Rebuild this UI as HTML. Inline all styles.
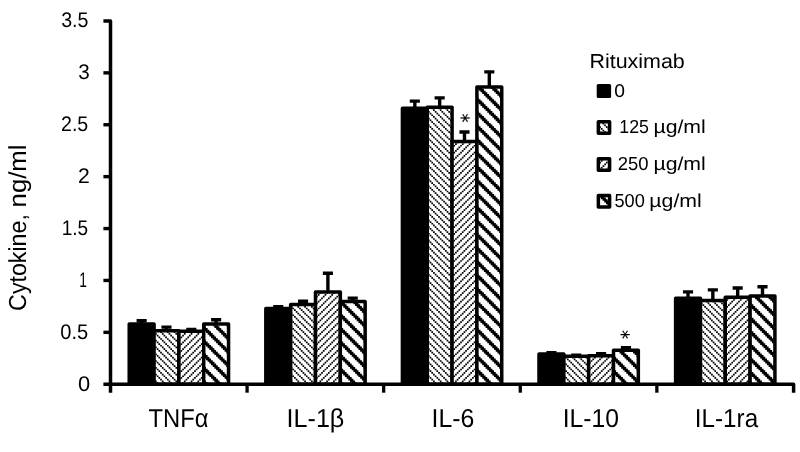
<!DOCTYPE html>
<html lang="en"><head><meta charset="utf-8"><title>Cytokine chart</title>
<style>
html,body{margin:0;padding:0;background:#fff;}
body{width:800px;height:452px;overflow:hidden;font-family:"Liberation Sans",sans-serif;}
svg{display:block;}
text{font-family:"Liberation Sans",sans-serif;fill:#000;text-rendering:geometricPrecision;}
</style></head><body>
<svg width="800" height="452" viewBox="0 0 800 452" role="img" aria-label="Cytokine bar chart">
<rect width="800" height="452" fill="#fff"/>

<path d="M141.65,323.95 V320.80 M138.30,320.80 H145.00" stroke="#000" stroke-width="3.4" stroke-linecap="square" fill="none"/>
<rect x="129.23" y="323.95" width="24.83" height="60.30" fill="#000" stroke="#000" stroke-width="3.5" stroke-linejoin="round"/>
<path d="M166.48,330.70 V327.10 M163.13,327.10 H169.83" stroke="#000" stroke-width="3.4" stroke-linecap="square" fill="none"/>
<rect x="154.06" y="330.70" width="24.83" height="53.55" fill="#fff"/>
<path transform="translate(-0.8475,-0.8475) scale(1.69492)" d="M95,196.32h1v.68h-1zM99,196.32h1v.68h-1zM103,196.32h1v.68h-1zM92.11,197h.89v1h-.89zM96,197h1v1h-1zM100,197h1v1h-1zM104,197h1v1h-1zM93,198h1v1h-1zM97,198h1v1h-1zM101,198h1v1h-1zM105,198h.34v1h-.34zM94,199h1v1h-1zM98,199h1v1h-1zM102,199h1v1h-1zM95,200h1v1h-1zM99,200h1v1h-1zM103,200h1v1h-1zM92.11,201h.89v1h-.89zM96,201h1v1h-1zM100,201h1v1h-1zM104,201h1v1h-1zM93,202h1v1h-1zM97,202h1v1h-1zM101,202h1v1h-1zM105,202h.34v1h-.34zM94,203h1v1h-1zM98,203h1v1h-1zM102,203h1v1h-1zM95,204h1v1h-1zM99,204h1v1h-1zM103,204h1v1h-1zM92.11,205h.89v1h-.89zM96,205h1v1h-1zM100,205h1v1h-1zM104,205h1v1h-1zM93,206h1v1h-1zM97,206h1v1h-1zM101,206h1v1h-1zM105,206h.34v1h-.34zM94,207h1v1h-1zM98,207h1v1h-1zM102,207h1v1h-1zM95,208h1v1h-1zM99,208h1v1h-1zM103,208h1v1h-1zM92.11,209h.89v1h-.89zM96,209h1v1h-1zM100,209h1v1h-1zM104,209h1v1h-1zM93,210h1v1h-1zM97,210h1v1h-1zM101,210h1v1h-1zM105,210h.34v1h-.34zM94,211h1v1h-1zM98,211h1v1h-1zM102,211h1v1h-1zM95,212h1v1h-1zM99,212h1v1h-1zM103,212h1v1h-1zM92.11,213h.89v1h-.89zM96,213h1v1h-1zM100,213h1v1h-1zM104,213h1v1h-1zM93,214h1v1h-1zM97,214h1v1h-1zM101,214h1v1h-1zM105,214h.34v1h-.34zM94,215h1v1h-1zM98,215h1v1h-1zM102,215h1v1h-1zM95,216h1v1h-1zM99,216h1v1h-1zM103,216h1v1h-1zM92.11,217h.89v1h-.89zM96,217h1v1h-1zM100,217h1v1h-1zM104,217h1v1h-1zM93,218h1v1h-1zM97,218h1v1h-1zM101,218h1v1h-1zM105,218h.34v1h-.34zM94,219h1v1h-1zM98,219h1v1h-1zM102,219h1v1h-1zM95,220h1v1h-1zM99,220h1v1h-1zM103,220h1v1h-1zM92.11,221h.89v1h-.89zM96,221h1v1h-1zM100,221h1v1h-1zM104,221h1v1h-1zM93,222h1v1h-1zM97,222h1v1h-1zM101,222h1v1h-1zM105,222h.34v1h-.34zM94,223h1v1h-1zM98,223h1v1h-1zM102,223h1v1h-1zM95,224h1v1h-1zM99,224h1v1h-1zM103,224h1v1h-1zM92.11,225h.89v1h-.89zM96,225h1v1h-1zM100,225h1v1h-1zM104,225h1v1h-1zM93,226h1v.5h-1zM97,226h1v.5h-1zM101,226h1v.5h-1zM105,226h.34v.5h-.34z" fill="#000"/>
<rect x="154.06" y="330.70" width="24.83" height="53.55" fill="none" stroke="#000" stroke-width="3.5" stroke-linejoin="round"/>
<path d="M191.31,331.25 V329.35 M187.96,329.35 H194.66" stroke="#000" stroke-width="3.4" stroke-linecap="square" fill="none"/>
<rect x="178.89" y="331.25" width="24.83" height="53.00" fill="#fff"/>
<path transform="translate(-0.8475,-0.8475) scale(1.69492)" d="M106.76,196.65h.24v.35h-.24zM110,196.65h1v.35h-1zM114,196.65h1v.35h-1zM118,196.65h1v.35h-1zM109,197h1v1h-1zM113,197h1v1h-1zM117,197h1v1h-1zM108,198h1v1h-1zM112,198h1v1h-1zM116,198h1v1h-1zM107,199h1v1h-1zM111,199h1v1h-1zM115,199h1v1h-1zM119,199h.99v1h-.99zM106.76,200h.24v1h-.24zM110,200h1v1h-1zM114,200h1v1h-1zM118,200h1v1h-1zM109,201h1v1h-1zM113,201h1v1h-1zM117,201h1v1h-1zM108,202h1v1h-1zM112,202h1v1h-1zM116,202h1v1h-1zM107,203h1v1h-1zM111,203h1v1h-1zM115,203h1v1h-1zM119,203h.99v1h-.99zM106.76,204h.24v1h-.24zM110,204h1v1h-1zM114,204h1v1h-1zM118,204h1v1h-1zM109,205h1v1h-1zM113,205h1v1h-1zM117,205h1v1h-1zM108,206h1v1h-1zM112,206h1v1h-1zM116,206h1v1h-1zM107,207h1v1h-1zM111,207h1v1h-1zM115,207h1v1h-1zM119,207h.99v1h-.99zM106.76,208h.24v1h-.24zM110,208h1v1h-1zM114,208h1v1h-1zM118,208h1v1h-1zM109,209h1v1h-1zM113,209h1v1h-1zM117,209h1v1h-1zM108,210h1v1h-1zM112,210h1v1h-1zM116,210h1v1h-1zM107,211h1v1h-1zM111,211h1v1h-1zM115,211h1v1h-1zM119,211h.99v1h-.99zM106.76,212h.24v1h-.24zM110,212h1v1h-1zM114,212h1v1h-1zM118,212h1v1h-1zM109,213h1v1h-1zM113,213h1v1h-1zM117,213h1v1h-1zM108,214h1v1h-1zM112,214h1v1h-1zM116,214h1v1h-1zM107,215h1v1h-1zM111,215h1v1h-1zM115,215h1v1h-1zM119,215h.99v1h-.99zM106.76,216h.24v1h-.24zM110,216h1v1h-1zM114,216h1v1h-1zM118,216h1v1h-1zM109,217h1v1h-1zM113,217h1v1h-1zM117,217h1v1h-1zM108,218h1v1h-1zM112,218h1v1h-1zM116,218h1v1h-1zM107,219h1v1h-1zM111,219h1v1h-1zM115,219h1v1h-1zM119,219h.99v1h-.99zM106.76,220h.24v1h-.24zM110,220h1v1h-1zM114,220h1v1h-1zM118,220h1v1h-1zM109,221h1v1h-1zM113,221h1v1h-1zM117,221h1v1h-1zM108,222h1v1h-1zM112,222h1v1h-1zM116,222h1v1h-1zM107,223h1v1h-1zM111,223h1v1h-1zM115,223h1v1h-1zM119,223h.99v1h-.99zM106.76,224h.24v1h-.24zM110,224h1v1h-1zM114,224h1v1h-1zM118,224h1v1h-1zM109,225h1v1h-1zM113,225h1v1h-1zM117,225h1v1h-1zM108,226h1v.5h-1zM112,226h1v.5h-1zM116,226h1v.5h-1z" fill="#000"/>
<rect x="178.89" y="331.25" width="24.83" height="53.00" fill="none" stroke="#000" stroke-width="3.5" stroke-linejoin="round"/>
<path d="M216.14,323.95 V319.80 M212.79,319.80 H219.49" stroke="#000" stroke-width="3.4" stroke-linecap="square" fill="none"/>
<rect x="203.72" y="323.95" width="24.83" height="60.30" fill="#fff"/>
<path transform="translate(-0.8475,-0.8475) scale(1.69492)" d="M126,192.34h3v.66h-3zM134,192.34h.64v.66h-.64zM121.41,193h.59v1h-.59zM127,193h3v1h-3zM121.41,194h1.59v1h-1.59zM128,194h3v1h-3zM121.41,195h2.59v1h-2.59zM129,195h3v1h-3zM122,196h3v1h-3zM130,196h3v1h-3zM123,197h3v1h-3zM131,197h3v1h-3zM124,198h3v1h-3zM132,198h2.64v1h-2.64zM125,199h3v1h-3zM133,199h1.64v1h-1.64zM126,200h3v1h-3zM134,200h.64v1h-.64zM121.41,201h.59v1h-.59zM127,201h3v1h-3zM121.41,202h1.59v1h-1.59zM128,202h3v1h-3zM121.41,203h2.59v1h-2.59zM129,203h3v1h-3zM122,204h3v1h-3zM130,204h3v1h-3zM123,205h3v1h-3zM131,205h3v1h-3zM124,206h3v1h-3zM132,206h2.64v1h-2.64zM125,207h3v1h-3zM133,207h1.64v1h-1.64zM126,208h3v1h-3zM134,208h.64v1h-.64zM121.41,209h.59v1h-.59zM127,209h3v1h-3zM121.41,210h1.59v1h-1.59zM128,210h3v1h-3zM121.41,211h2.59v1h-2.59zM129,211h3v1h-3zM122,212h3v1h-3zM130,212h3v1h-3zM123,213h3v1h-3zM131,213h3v1h-3zM124,214h3v1h-3zM132,214h2.64v1h-2.64zM125,215h3v1h-3zM133,215h1.64v1h-1.64zM126,216h3v1h-3zM134,216h.64v1h-.64zM121.41,217h.59v1h-.59zM127,217h3v1h-3zM121.41,218h1.59v1h-1.59zM128,218h3v1h-3zM121.41,219h2.59v1h-2.59zM129,219h3v1h-3zM122,220h3v1h-3zM130,220h3v1h-3zM123,221h3v1h-3zM131,221h3v1h-3zM124,222h3v1h-3zM132,222h2.64v1h-2.64zM125,223h3v1h-3zM133,223h1.64v1h-1.64zM126,224h3v1h-3zM134,224h.64v1h-.64zM121.41,225h.59v1h-.59zM127,225h3v1h-3zM121.41,226h1.59v.5h-1.59zM128,226h3v.5h-3z" fill="#000"/>
<rect x="203.72" y="323.95" width="24.83" height="60.30" fill="none" stroke="#000" stroke-width="3.5" stroke-linejoin="round"/>
<path d="M278.24,308.45 V306.60 M274.89,306.60 H281.59" stroke="#000" stroke-width="3.4" stroke-linecap="square" fill="none"/>
<rect x="265.83" y="308.45" width="24.83" height="75.80" fill="#000" stroke="#000" stroke-width="3.5" stroke-linejoin="round"/>
<path d="M303.07,304.50 V301.20 M299.72,301.20 H306.42" stroke="#000" stroke-width="3.4" stroke-linecap="square" fill="none"/>
<rect x="290.66" y="304.50" width="24.83" height="79.75" fill="#fff"/>
<path transform="translate(-0.8475,-0.8475) scale(1.69492)" d="M175,180.86h1v.14h-1zM179,180.86h1v.14h-1zM183,180.86h1v.14h-1zM172.69,181h.31v1h-.31zM176,181h1v1h-1zM180,181h1v1h-1zM184,181h1v1h-1zM173,182h1v1h-1zM177,182h1v1h-1zM181,182h1v1h-1zM185,182h.93v1h-.93zM174,183h1v1h-1zM178,183h1v1h-1zM182,183h1v1h-1zM175,184h1v1h-1zM179,184h1v1h-1zM183,184h1v1h-1zM172.69,185h.31v1h-.31zM176,185h1v1h-1zM180,185h1v1h-1zM184,185h1v1h-1zM173,186h1v1h-1zM177,186h1v1h-1zM181,186h1v1h-1zM185,186h.93v1h-.93zM174,187h1v1h-1zM178,187h1v1h-1zM182,187h1v1h-1zM175,188h1v1h-1zM179,188h1v1h-1zM183,188h1v1h-1zM172.69,189h.31v1h-.31zM176,189h1v1h-1zM180,189h1v1h-1zM184,189h1v1h-1zM173,190h1v1h-1zM177,190h1v1h-1zM181,190h1v1h-1zM185,190h.93v1h-.93zM174,191h1v1h-1zM178,191h1v1h-1zM182,191h1v1h-1zM175,192h1v1h-1zM179,192h1v1h-1zM183,192h1v1h-1zM172.69,193h.31v1h-.31zM176,193h1v1h-1zM180,193h1v1h-1zM184,193h1v1h-1zM173,194h1v1h-1zM177,194h1v1h-1zM181,194h1v1h-1zM185,194h.93v1h-.93zM174,195h1v1h-1zM178,195h1v1h-1zM182,195h1v1h-1zM175,196h1v1h-1zM179,196h1v1h-1zM183,196h1v1h-1zM172.69,197h.31v1h-.31zM176,197h1v1h-1zM180,197h1v1h-1zM184,197h1v1h-1zM173,198h1v1h-1zM177,198h1v1h-1zM181,198h1v1h-1zM185,198h.93v1h-.93zM174,199h1v1h-1zM178,199h1v1h-1zM182,199h1v1h-1zM175,200h1v1h-1zM179,200h1v1h-1zM183,200h1v1h-1zM172.69,201h.31v1h-.31zM176,201h1v1h-1zM180,201h1v1h-1zM184,201h1v1h-1zM173,202h1v1h-1zM177,202h1v1h-1zM181,202h1v1h-1zM185,202h.93v1h-.93zM174,203h1v1h-1zM178,203h1v1h-1zM182,203h1v1h-1zM175,204h1v1h-1zM179,204h1v1h-1zM183,204h1v1h-1zM172.69,205h.31v1h-.31zM176,205h1v1h-1zM180,205h1v1h-1zM184,205h1v1h-1zM173,206h1v1h-1zM177,206h1v1h-1zM181,206h1v1h-1zM185,206h.93v1h-.93zM174,207h1v1h-1zM178,207h1v1h-1zM182,207h1v1h-1zM175,208h1v1h-1zM179,208h1v1h-1zM183,208h1v1h-1zM172.69,209h.31v1h-.31zM176,209h1v1h-1zM180,209h1v1h-1zM184,209h1v1h-1zM173,210h1v1h-1zM177,210h1v1h-1zM181,210h1v1h-1zM185,210h.93v1h-.93zM174,211h1v1h-1zM178,211h1v1h-1zM182,211h1v1h-1zM175,212h1v1h-1zM179,212h1v1h-1zM183,212h1v1h-1zM172.69,213h.31v1h-.31zM176,213h1v1h-1zM180,213h1v1h-1zM184,213h1v1h-1zM173,214h1v1h-1zM177,214h1v1h-1zM181,214h1v1h-1zM185,214h.93v1h-.93zM174,215h1v1h-1zM178,215h1v1h-1zM182,215h1v1h-1zM175,216h1v1h-1zM179,216h1v1h-1zM183,216h1v1h-1zM172.69,217h.31v1h-.31zM176,217h1v1h-1zM180,217h1v1h-1zM184,217h1v1h-1zM173,218h1v1h-1zM177,218h1v1h-1zM181,218h1v1h-1zM185,218h.93v1h-.93zM174,219h1v1h-1zM178,219h1v1h-1zM182,219h1v1h-1zM175,220h1v1h-1zM179,220h1v1h-1zM183,220h1v1h-1zM172.69,221h.31v1h-.31zM176,221h1v1h-1zM180,221h1v1h-1zM184,221h1v1h-1zM173,222h1v1h-1zM177,222h1v1h-1zM181,222h1v1h-1zM185,222h.93v1h-.93zM174,223h1v1h-1zM178,223h1v1h-1zM182,223h1v1h-1zM175,224h1v1h-1zM179,224h1v1h-1zM183,224h1v1h-1zM172.69,225h.31v1h-.31zM176,225h1v1h-1zM180,225h1v1h-1zM184,225h1v1h-1zM173,226h1v.5h-1zM177,226h1v.5h-1zM181,226h1v.5h-1zM185,226h.93v.5h-.93z" fill="#000"/>
<rect x="290.66" y="304.50" width="24.83" height="79.75" fill="none" stroke="#000" stroke-width="3.5" stroke-linejoin="round"/>
<path d="M327.90,292.00 V273.25 M324.55,273.25 H331.25" stroke="#000" stroke-width="3.4" stroke-linecap="square" fill="none"/>
<rect x="315.49" y="292.00" width="24.83" height="92.25" fill="#fff"/>
<path transform="translate(-0.8475,-0.8475) scale(1.69492)" d="M189,173.49h1v.51h-1zM193,173.49h1v.51h-1zM197,173.49h1v.51h-1zM188,174h1v1h-1zM192,174h1v1h-1zM196,174h1v1h-1zM200,174h.58v1h-.58zM187.34,175h.66v1h-.66zM191,175h1v1h-1zM195,175h1v1h-1zM199,175h1v1h-1zM190,176h1v1h-1zM194,176h1v1h-1zM198,176h1v1h-1zM189,177h1v1h-1zM193,177h1v1h-1zM197,177h1v1h-1zM188,178h1v1h-1zM192,178h1v1h-1zM196,178h1v1h-1zM200,178h.58v1h-.58zM187.34,179h.66v1h-.66zM191,179h1v1h-1zM195,179h1v1h-1zM199,179h1v1h-1zM190,180h1v1h-1zM194,180h1v1h-1zM198,180h1v1h-1zM189,181h1v1h-1zM193,181h1v1h-1zM197,181h1v1h-1zM188,182h1v1h-1zM192,182h1v1h-1zM196,182h1v1h-1zM200,182h.58v1h-.58zM187.34,183h.66v1h-.66zM191,183h1v1h-1zM195,183h1v1h-1zM199,183h1v1h-1zM190,184h1v1h-1zM194,184h1v1h-1zM198,184h1v1h-1zM189,185h1v1h-1zM193,185h1v1h-1zM197,185h1v1h-1zM188,186h1v1h-1zM192,186h1v1h-1zM196,186h1v1h-1zM200,186h.58v1h-.58zM187.34,187h.66v1h-.66zM191,187h1v1h-1zM195,187h1v1h-1zM199,187h1v1h-1zM190,188h1v1h-1zM194,188h1v1h-1zM198,188h1v1h-1zM189,189h1v1h-1zM193,189h1v1h-1zM197,189h1v1h-1zM188,190h1v1h-1zM192,190h1v1h-1zM196,190h1v1h-1zM200,190h.58v1h-.58zM187.34,191h.66v1h-.66zM191,191h1v1h-1zM195,191h1v1h-1zM199,191h1v1h-1zM190,192h1v1h-1zM194,192h1v1h-1zM198,192h1v1h-1zM189,193h1v1h-1zM193,193h1v1h-1zM197,193h1v1h-1zM188,194h1v1h-1zM192,194h1v1h-1zM196,194h1v1h-1zM200,194h.58v1h-.58zM187.34,195h.66v1h-.66zM191,195h1v1h-1zM195,195h1v1h-1zM199,195h1v1h-1zM190,196h1v1h-1zM194,196h1v1h-1zM198,196h1v1h-1zM189,197h1v1h-1zM193,197h1v1h-1zM197,197h1v1h-1zM188,198h1v1h-1zM192,198h1v1h-1zM196,198h1v1h-1zM200,198h.58v1h-.58zM187.34,199h.66v1h-.66zM191,199h1v1h-1zM195,199h1v1h-1zM199,199h1v1h-1zM190,200h1v1h-1zM194,200h1v1h-1zM198,200h1v1h-1zM189,201h1v1h-1zM193,201h1v1h-1zM197,201h1v1h-1zM188,202h1v1h-1zM192,202h1v1h-1zM196,202h1v1h-1zM200,202h.58v1h-.58zM187.34,203h.66v1h-.66zM191,203h1v1h-1zM195,203h1v1h-1zM199,203h1v1h-1zM190,204h1v1h-1zM194,204h1v1h-1zM198,204h1v1h-1zM189,205h1v1h-1zM193,205h1v1h-1zM197,205h1v1h-1zM188,206h1v1h-1zM192,206h1v1h-1zM196,206h1v1h-1zM200,206h.58v1h-.58zM187.34,207h.66v1h-.66zM191,207h1v1h-1zM195,207h1v1h-1zM199,207h1v1h-1zM190,208h1v1h-1zM194,208h1v1h-1zM198,208h1v1h-1zM189,209h1v1h-1zM193,209h1v1h-1zM197,209h1v1h-1zM188,210h1v1h-1zM192,210h1v1h-1zM196,210h1v1h-1zM200,210h.58v1h-.58zM187.34,211h.66v1h-.66zM191,211h1v1h-1zM195,211h1v1h-1zM199,211h1v1h-1zM190,212h1v1h-1zM194,212h1v1h-1zM198,212h1v1h-1zM189,213h1v1h-1zM193,213h1v1h-1zM197,213h1v1h-1zM188,214h1v1h-1zM192,214h1v1h-1zM196,214h1v1h-1zM200,214h.58v1h-.58zM187.34,215h.66v1h-.66zM191,215h1v1h-1zM195,215h1v1h-1zM199,215h1v1h-1zM190,216h1v1h-1zM194,216h1v1h-1zM198,216h1v1h-1zM189,217h1v1h-1zM193,217h1v1h-1zM197,217h1v1h-1zM188,218h1v1h-1zM192,218h1v1h-1zM196,218h1v1h-1zM200,218h.58v1h-.58zM187.34,219h.66v1h-.66zM191,219h1v1h-1zM195,219h1v1h-1zM199,219h1v1h-1zM190,220h1v1h-1zM194,220h1v1h-1zM198,220h1v1h-1zM189,221h1v1h-1zM193,221h1v1h-1zM197,221h1v1h-1zM188,222h1v1h-1zM192,222h1v1h-1zM196,222h1v1h-1zM200,222h.58v1h-.58zM187.34,223h.66v1h-.66zM191,223h1v1h-1zM195,223h1v1h-1zM199,223h1v1h-1zM190,224h1v1h-1zM194,224h1v1h-1zM198,224h1v1h-1zM189,225h1v1h-1zM193,225h1v1h-1zM197,225h1v1h-1zM188,226h1v.5h-1zM192,226h1v.5h-1zM196,226h1v.5h-1zM200,226h.58v.5h-.58z" fill="#000"/>
<rect x="315.49" y="292.00" width="24.83" height="92.25" fill="none" stroke="#000" stroke-width="3.5" stroke-linejoin="round"/>
<path d="M352.73,301.45 V298.10 M349.38,298.10 H356.08" stroke="#000" stroke-width="3.4" stroke-linecap="square" fill="none"/>
<rect x="340.32" y="301.45" width="24.83" height="82.80" fill="#fff"/>
<path transform="translate(-0.8475,-0.8475) scale(1.69492)" d="M201.99,179.06h2.01v.94h-2.01zM209,179.06h3v.94h-3zM202,180h3v1h-3zM210,180h3v1h-3zM203,181h3v1h-3zM211,181h3v1h-3zM204,182h3v1h-3zM212,182h3v1h-3zM205,183h3v1h-3zM213,183h2.23v1h-2.23zM206,184h3v1h-3zM214,184h1.23v1h-1.23zM201.99,185h.01v1h-.01zM207,185h3v1h-3zM215,185h.23v1h-.23zM201.99,186h1.01v1h-1.01zM208,186h3v1h-3zM201.99,187h2.01v1h-2.01zM209,187h3v1h-3zM202,188h3v1h-3zM210,188h3v1h-3zM203,189h3v1h-3zM211,189h3v1h-3zM204,190h3v1h-3zM212,190h3v1h-3zM205,191h3v1h-3zM213,191h2.23v1h-2.23zM206,192h3v1h-3zM214,192h1.23v1h-1.23zM201.99,193h.01v1h-.01zM207,193h3v1h-3zM215,193h.23v1h-.23zM201.99,194h1.01v1h-1.01zM208,194h3v1h-3zM201.99,195h2.01v1h-2.01zM209,195h3v1h-3zM202,196h3v1h-3zM210,196h3v1h-3zM203,197h3v1h-3zM211,197h3v1h-3zM204,198h3v1h-3zM212,198h3v1h-3zM205,199h3v1h-3zM213,199h2.23v1h-2.23zM206,200h3v1h-3zM214,200h1.23v1h-1.23zM201.99,201h.01v1h-.01zM207,201h3v1h-3zM215,201h.23v1h-.23zM201.99,202h1.01v1h-1.01zM208,202h3v1h-3zM201.99,203h2.01v1h-2.01zM209,203h3v1h-3zM202,204h3v1h-3zM210,204h3v1h-3zM203,205h3v1h-3zM211,205h3v1h-3zM204,206h3v1h-3zM212,206h3v1h-3zM205,207h3v1h-3zM213,207h2.23v1h-2.23zM206,208h3v1h-3zM214,208h1.23v1h-1.23zM201.99,209h.01v1h-.01zM207,209h3v1h-3zM215,209h.23v1h-.23zM201.99,210h1.01v1h-1.01zM208,210h3v1h-3zM201.99,211h2.01v1h-2.01zM209,211h3v1h-3zM202,212h3v1h-3zM210,212h3v1h-3zM203,213h3v1h-3zM211,213h3v1h-3zM204,214h3v1h-3zM212,214h3v1h-3zM205,215h3v1h-3zM213,215h2.23v1h-2.23zM206,216h3v1h-3zM214,216h1.23v1h-1.23zM201.99,217h.01v1h-.01zM207,217h3v1h-3zM215,217h.23v1h-.23zM201.99,218h1.01v1h-1.01zM208,218h3v1h-3zM201.99,219h2.01v1h-2.01zM209,219h3v1h-3zM202,220h3v1h-3zM210,220h3v1h-3zM203,221h3v1h-3zM211,221h3v1h-3zM204,222h3v1h-3zM212,222h3v1h-3zM205,223h3v1h-3zM213,223h2.23v1h-2.23zM206,224h3v1h-3zM214,224h1.23v1h-1.23zM201.99,225h.01v1h-.01zM207,225h3v1h-3zM215,225h.23v1h-.23zM201.99,226h1.01v.5h-1.01zM208,226h3v.5h-3z" fill="#000"/>
<rect x="340.32" y="301.45" width="24.83" height="82.80" fill="none" stroke="#000" stroke-width="3.5" stroke-linejoin="round"/>
<path d="M414.83,108.20 V101.10 M411.48,101.10 H418.18" stroke="#000" stroke-width="3.4" stroke-linecap="square" fill="none"/>
<rect x="402.42" y="108.20" width="24.83" height="276.05" fill="#000" stroke="#000" stroke-width="3.5" stroke-linejoin="round"/>
<path d="M439.66,107.25 V97.90 M436.31,97.90 H443.01" stroke="#000" stroke-width="3.4" stroke-linecap="square" fill="none"/>
<rect x="427.25" y="107.25" width="24.83" height="277.00" fill="#fff"/>
<path transform="translate(-0.8475,-0.8475) scale(1.69492)" d="M255,64.49h1v.51h-1zM259,64.49h1v.51h-1zM263,64.49h1v.51h-1zM256,65h1v1h-1zM260,65h1v1h-1zM264,65h1v1h-1zM253.28,66h.72v1h-.72zM257,66h1v1h-1zM261,66h1v1h-1zM265,66h1v1h-1zM254,67h1v1h-1zM258,67h1v1h-1zM262,67h1v1h-1zM266,67h.52v1h-.52zM255,68h1v1h-1zM259,68h1v1h-1zM263,68h1v1h-1zM256,69h1v1h-1zM260,69h1v1h-1zM264,69h1v1h-1zM253.28,70h.72v1h-.72zM257,70h1v1h-1zM261,70h1v1h-1zM265,70h1v1h-1zM254,71h1v1h-1zM258,71h1v1h-1zM262,71h1v1h-1zM266,71h.52v1h-.52zM255,72h1v1h-1zM259,72h1v1h-1zM263,72h1v1h-1zM256,73h1v1h-1zM260,73h1v1h-1zM264,73h1v1h-1zM253.28,74h.72v1h-.72zM257,74h1v1h-1zM261,74h1v1h-1zM265,74h1v1h-1zM254,75h1v1h-1zM258,75h1v1h-1zM262,75h1v1h-1zM266,75h.52v1h-.52zM255,76h1v1h-1zM259,76h1v1h-1zM263,76h1v1h-1zM256,77h1v1h-1zM260,77h1v1h-1zM264,77h1v1h-1zM253.28,78h.72v1h-.72zM257,78h1v1h-1zM261,78h1v1h-1zM265,78h1v1h-1zM254,79h1v1h-1zM258,79h1v1h-1zM262,79h1v1h-1zM266,79h.52v1h-.52zM255,80h1v1h-1zM259,80h1v1h-1zM263,80h1v1h-1zM256,81h1v1h-1zM260,81h1v1h-1zM264,81h1v1h-1zM253.28,82h.72v1h-.72zM257,82h1v1h-1zM261,82h1v1h-1zM265,82h1v1h-1zM254,83h1v1h-1zM258,83h1v1h-1zM262,83h1v1h-1zM266,83h.52v1h-.52zM255,84h1v1h-1zM259,84h1v1h-1zM263,84h1v1h-1zM256,85h1v1h-1zM260,85h1v1h-1zM264,85h1v1h-1zM253.28,86h.72v1h-.72zM257,86h1v1h-1zM261,86h1v1h-1zM265,86h1v1h-1zM254,87h1v1h-1zM258,87h1v1h-1zM262,87h1v1h-1zM266,87h.52v1h-.52zM255,88h1v1h-1zM259,88h1v1h-1zM263,88h1v1h-1zM256,89h1v1h-1zM260,89h1v1h-1zM264,89h1v1h-1zM253.28,90h.72v1h-.72zM257,90h1v1h-1zM261,90h1v1h-1zM265,90h1v1h-1zM254,91h1v1h-1zM258,91h1v1h-1zM262,91h1v1h-1zM266,91h.52v1h-.52zM255,92h1v1h-1zM259,92h1v1h-1zM263,92h1v1h-1zM256,93h1v1h-1zM260,93h1v1h-1zM264,93h1v1h-1zM253.28,94h.72v1h-.72zM257,94h1v1h-1zM261,94h1v1h-1zM265,94h1v1h-1zM254,95h1v1h-1zM258,95h1v1h-1zM262,95h1v1h-1zM266,95h.52v1h-.52zM255,96h1v1h-1zM259,96h1v1h-1zM263,96h1v1h-1zM256,97h1v1h-1zM260,97h1v1h-1zM264,97h1v1h-1zM253.28,98h.72v1h-.72zM257,98h1v1h-1zM261,98h1v1h-1zM265,98h1v1h-1zM254,99h1v1h-1zM258,99h1v1h-1zM262,99h1v1h-1zM266,99h.52v1h-.52zM255,100h1v1h-1zM259,100h1v1h-1zM263,100h1v1h-1zM256,101h1v1h-1zM260,101h1v1h-1zM264,101h1v1h-1zM253.28,102h.72v1h-.72zM257,102h1v1h-1zM261,102h1v1h-1zM265,102h1v1h-1zM254,103h1v1h-1zM258,103h1v1h-1zM262,103h1v1h-1zM266,103h.52v1h-.52zM255,104h1v1h-1zM259,104h1v1h-1zM263,104h1v1h-1zM256,105h1v1h-1zM260,105h1v1h-1zM264,105h1v1h-1zM253.28,106h.72v1h-.72zM257,106h1v1h-1zM261,106h1v1h-1zM265,106h1v1h-1zM254,107h1v1h-1zM258,107h1v1h-1zM262,107h1v1h-1zM266,107h.52v1h-.52zM255,108h1v1h-1zM259,108h1v1h-1zM263,108h1v1h-1zM256,109h1v1h-1zM260,109h1v1h-1zM264,109h1v1h-1zM253.28,110h.72v1h-.72zM257,110h1v1h-1zM261,110h1v1h-1zM265,110h1v1h-1zM254,111h1v1h-1zM258,111h1v1h-1zM262,111h1v1h-1zM266,111h.52v1h-.52zM255,112h1v1h-1zM259,112h1v1h-1zM263,112h1v1h-1zM256,113h1v1h-1zM260,113h1v1h-1zM264,113h1v1h-1zM253.28,114h.72v1h-.72zM257,114h1v1h-1zM261,114h1v1h-1zM265,114h1v1h-1zM254,115h1v1h-1zM258,115h1v1h-1zM262,115h1v1h-1zM266,115h.52v1h-.52zM255,116h1v1h-1zM259,116h1v1h-1zM263,116h1v1h-1zM256,117h1v1h-1zM260,117h1v1h-1zM264,117h1v1h-1zM253.28,118h.72v1h-.72zM257,118h1v1h-1zM261,118h1v1h-1zM265,118h1v1h-1zM254,119h1v1h-1zM258,119h1v1h-1zM262,119h1v1h-1zM266,119h.52v1h-.52zM255,120h1v1h-1zM259,120h1v1h-1zM263,120h1v1h-1zM256,121h1v1h-1zM260,121h1v1h-1zM264,121h1v1h-1zM253.28,122h.72v1h-.72zM257,122h1v1h-1zM261,122h1v1h-1zM265,122h1v1h-1zM254,123h1v1h-1zM258,123h1v1h-1zM262,123h1v1h-1zM266,123h.52v1h-.52zM255,124h1v1h-1zM259,124h1v1h-1zM263,124h1v1h-1zM256,125h1v1h-1zM260,125h1v1h-1zM264,125h1v1h-1zM253.28,126h.72v1h-.72zM257,126h1v1h-1zM261,126h1v1h-1zM265,126h1v1h-1zM254,127h1v1h-1zM258,127h1v1h-1zM262,127h1v1h-1zM266,127h.52v1h-.52zM255,128h1v1h-1zM259,128h1v1h-1zM263,128h1v1h-1zM256,129h1v1h-1zM260,129h1v1h-1zM264,129h1v1h-1zM253.28,130h.72v1h-.72zM257,130h1v1h-1zM261,130h1v1h-1zM265,130h1v1h-1zM254,131h1v1h-1zM258,131h1v1h-1zM262,131h1v1h-1zM266,131h.52v1h-.52zM255,132h1v1h-1zM259,132h1v1h-1zM263,132h1v1h-1zM256,133h1v1h-1zM260,133h1v1h-1zM264,133h1v1h-1zM253.28,134h.72v1h-.72zM257,134h1v1h-1zM261,134h1v1h-1zM265,134h1v1h-1zM254,135h1v1h-1zM258,135h1v1h-1zM262,135h1v1h-1zM266,135h.52v1h-.52zM255,136h1v1h-1zM259,136h1v1h-1zM263,136h1v1h-1zM256,137h1v1h-1zM260,137h1v1h-1zM264,137h1v1h-1zM253.28,138h.72v1h-.72zM257,138h1v1h-1zM261,138h1v1h-1zM265,138h1v1h-1zM254,139h1v1h-1zM258,139h1v1h-1zM262,139h1v1h-1zM266,139h.52v1h-.52zM255,140h1v1h-1zM259,140h1v1h-1zM263,140h1v1h-1zM256,141h1v1h-1zM260,141h1v1h-1zM264,141h1v1h-1zM253.28,142h.72v1h-.72zM257,142h1v1h-1zM261,142h1v1h-1zM265,142h1v1h-1zM254,143h1v1h-1zM258,143h1v1h-1zM262,143h1v1h-1zM266,143h.52v1h-.52zM255,144h1v1h-1zM259,144h1v1h-1zM263,144h1v1h-1zM256,145h1v1h-1zM260,145h1v1h-1zM264,145h1v1h-1zM253.28,146h.72v1h-.72zM257,146h1v1h-1zM261,146h1v1h-1zM265,146h1v1h-1zM254,147h1v1h-1zM258,147h1v1h-1zM262,147h1v1h-1zM266,147h.52v1h-.52zM255,148h1v1h-1zM259,148h1v1h-1zM263,148h1v1h-1zM256,149h1v1h-1zM260,149h1v1h-1zM264,149h1v1h-1zM253.28,150h.72v1h-.72zM257,150h1v1h-1zM261,150h1v1h-1zM265,150h1v1h-1zM254,151h1v1h-1zM258,151h1v1h-1zM262,151h1v1h-1zM266,151h.52v1h-.52zM255,152h1v1h-1zM259,152h1v1h-1zM263,152h1v1h-1zM256,153h1v1h-1zM260,153h1v1h-1zM264,153h1v1h-1zM253.28,154h.72v1h-.72zM257,154h1v1h-1zM261,154h1v1h-1zM265,154h1v1h-1zM254,155h1v1h-1zM258,155h1v1h-1zM262,155h1v1h-1zM266,155h.52v1h-.52zM255,156h1v1h-1zM259,156h1v1h-1zM263,156h1v1h-1zM256,157h1v1h-1zM260,157h1v1h-1zM264,157h1v1h-1zM253.28,158h.72v1h-.72zM257,158h1v1h-1zM261,158h1v1h-1zM265,158h1v1h-1zM254,159h1v1h-1zM258,159h1v1h-1zM262,159h1v1h-1zM266,159h.52v1h-.52zM255,160h1v1h-1zM259,160h1v1h-1zM263,160h1v1h-1zM256,161h1v1h-1zM260,161h1v1h-1zM264,161h1v1h-1zM253.28,162h.72v1h-.72zM257,162h1v1h-1zM261,162h1v1h-1zM265,162h1v1h-1zM254,163h1v1h-1zM258,163h1v1h-1zM262,163h1v1h-1zM266,163h.52v1h-.52zM255,164h1v1h-1zM259,164h1v1h-1zM263,164h1v1h-1zM256,165h1v1h-1zM260,165h1v1h-1zM264,165h1v1h-1zM253.28,166h.72v1h-.72zM257,166h1v1h-1zM261,166h1v1h-1zM265,166h1v1h-1zM254,167h1v1h-1zM258,167h1v1h-1zM262,167h1v1h-1zM266,167h.52v1h-.52zM255,168h1v1h-1zM259,168h1v1h-1zM263,168h1v1h-1zM256,169h1v1h-1zM260,169h1v1h-1zM264,169h1v1h-1zM253.28,170h.72v1h-.72zM257,170h1v1h-1zM261,170h1v1h-1zM265,170h1v1h-1zM254,171h1v1h-1zM258,171h1v1h-1zM262,171h1v1h-1zM266,171h.52v1h-.52zM255,172h1v1h-1zM259,172h1v1h-1zM263,172h1v1h-1zM256,173h1v1h-1zM260,173h1v1h-1zM264,173h1v1h-1zM253.28,174h.72v1h-.72zM257,174h1v1h-1zM261,174h1v1h-1zM265,174h1v1h-1zM254,175h1v1h-1zM258,175h1v1h-1zM262,175h1v1h-1zM266,175h.52v1h-.52zM255,176h1v1h-1zM259,176h1v1h-1zM263,176h1v1h-1zM256,177h1v1h-1zM260,177h1v1h-1zM264,177h1v1h-1zM253.28,178h.72v1h-.72zM257,178h1v1h-1zM261,178h1v1h-1zM265,178h1v1h-1zM254,179h1v1h-1zM258,179h1v1h-1zM262,179h1v1h-1zM266,179h.52v1h-.52zM255,180h1v1h-1zM259,180h1v1h-1zM263,180h1v1h-1zM256,181h1v1h-1zM260,181h1v1h-1zM264,181h1v1h-1zM253.28,182h.72v1h-.72zM257,182h1v1h-1zM261,182h1v1h-1zM265,182h1v1h-1zM254,183h1v1h-1zM258,183h1v1h-1zM262,183h1v1h-1zM266,183h.52v1h-.52zM255,184h1v1h-1zM259,184h1v1h-1zM263,184h1v1h-1zM256,185h1v1h-1zM260,185h1v1h-1zM264,185h1v1h-1zM253.28,186h.72v1h-.72zM257,186h1v1h-1zM261,186h1v1h-1zM265,186h1v1h-1zM254,187h1v1h-1zM258,187h1v1h-1zM262,187h1v1h-1zM266,187h.52v1h-.52zM255,188h1v1h-1zM259,188h1v1h-1zM263,188h1v1h-1zM256,189h1v1h-1zM260,189h1v1h-1zM264,189h1v1h-1zM253.28,190h.72v1h-.72zM257,190h1v1h-1zM261,190h1v1h-1zM265,190h1v1h-1zM254,191h1v1h-1zM258,191h1v1h-1zM262,191h1v1h-1zM266,191h.52v1h-.52zM255,192h1v1h-1zM259,192h1v1h-1zM263,192h1v1h-1zM256,193h1v1h-1zM260,193h1v1h-1zM264,193h1v1h-1zM253.28,194h.72v1h-.72zM257,194h1v1h-1zM261,194h1v1h-1zM265,194h1v1h-1zM254,195h1v1h-1zM258,195h1v1h-1zM262,195h1v1h-1zM266,195h.52v1h-.52zM255,196h1v1h-1zM259,196h1v1h-1zM263,196h1v1h-1zM256,197h1v1h-1zM260,197h1v1h-1zM264,197h1v1h-1zM253.28,198h.72v1h-.72zM257,198h1v1h-1zM261,198h1v1h-1zM265,198h1v1h-1zM254,199h1v1h-1zM258,199h1v1h-1zM262,199h1v1h-1zM266,199h.52v1h-.52zM255,200h1v1h-1zM259,200h1v1h-1zM263,200h1v1h-1zM256,201h1v1h-1zM260,201h1v1h-1zM264,201h1v1h-1zM253.28,202h.72v1h-.72zM257,202h1v1h-1zM261,202h1v1h-1zM265,202h1v1h-1zM254,203h1v1h-1zM258,203h1v1h-1zM262,203h1v1h-1zM266,203h.52v1h-.52zM255,204h1v1h-1zM259,204h1v1h-1zM263,204h1v1h-1zM256,205h1v1h-1zM260,205h1v1h-1zM264,205h1v1h-1zM253.28,206h.72v1h-.72zM257,206h1v1h-1zM261,206h1v1h-1zM265,206h1v1h-1zM254,207h1v1h-1zM258,207h1v1h-1zM262,207h1v1h-1zM266,207h.52v1h-.52zM255,208h1v1h-1zM259,208h1v1h-1zM263,208h1v1h-1zM256,209h1v1h-1zM260,209h1v1h-1zM264,209h1v1h-1zM253.28,210h.72v1h-.72zM257,210h1v1h-1zM261,210h1v1h-1zM265,210h1v1h-1zM254,211h1v1h-1zM258,211h1v1h-1zM262,211h1v1h-1zM266,211h.52v1h-.52zM255,212h1v1h-1zM259,212h1v1h-1zM263,212h1v1h-1zM256,213h1v1h-1zM260,213h1v1h-1zM264,213h1v1h-1zM253.28,214h.72v1h-.72zM257,214h1v1h-1zM261,214h1v1h-1zM265,214h1v1h-1zM254,215h1v1h-1zM258,215h1v1h-1zM262,215h1v1h-1zM266,215h.52v1h-.52zM255,216h1v1h-1zM259,216h1v1h-1zM263,216h1v1h-1zM256,217h1v1h-1zM260,217h1v1h-1zM264,217h1v1h-1zM253.28,218h.72v1h-.72zM257,218h1v1h-1zM261,218h1v1h-1zM265,218h1v1h-1zM254,219h1v1h-1zM258,219h1v1h-1zM262,219h1v1h-1zM266,219h.52v1h-.52zM255,220h1v1h-1zM259,220h1v1h-1zM263,220h1v1h-1zM256,221h1v1h-1zM260,221h1v1h-1zM264,221h1v1h-1zM253.28,222h.72v1h-.72zM257,222h1v1h-1zM261,222h1v1h-1zM265,222h1v1h-1zM254,223h1v1h-1zM258,223h1v1h-1zM262,223h1v1h-1zM266,223h.52v1h-.52zM255,224h1v1h-1zM259,224h1v1h-1zM263,224h1v1h-1zM256,225h1v1h-1zM260,225h1v1h-1zM264,225h1v1h-1zM253.28,226h.72v.5h-.72zM257,226h1v.5h-1zM261,226h1v.5h-1zM265,226h1v.5h-1z" fill="#000"/>
<rect x="427.25" y="107.25" width="24.83" height="277.00" fill="none" stroke="#000" stroke-width="3.5" stroke-linejoin="round"/>
<path d="M464.49,141.55 V132.05 M461.14,132.05 H467.84" stroke="#000" stroke-width="3.4" stroke-linecap="square" fill="none"/>
<rect x="452.08" y="141.55" width="24.83" height="242.70" fill="#fff"/>
<path transform="translate(-0.8475,-0.8475) scale(1.69492)" d="M270,84.72h1v.28h-1zM274,84.72h1v.28h-1zM278,84.72h1v.28h-1zM269,85h1v1h-1zM273,85h1v1h-1zM277,85h1v1h-1zM281,85h.17v1h-.17zM268,86h1v1h-1zM272,86h1v1h-1zM276,86h1v1h-1zM280,86h1v1h-1zM267.93,87h.07v1h-.07zM271,87h1v1h-1zM275,87h1v1h-1zM279,87h1v1h-1zM270,88h1v1h-1zM274,88h1v1h-1zM278,88h1v1h-1zM269,89h1v1h-1zM273,89h1v1h-1zM277,89h1v1h-1zM281,89h.17v1h-.17zM268,90h1v1h-1zM272,90h1v1h-1zM276,90h1v1h-1zM280,90h1v1h-1zM267.93,91h.07v1h-.07zM271,91h1v1h-1zM275,91h1v1h-1zM279,91h1v1h-1zM270,92h1v1h-1zM274,92h1v1h-1zM278,92h1v1h-1zM269,93h1v1h-1zM273,93h1v1h-1zM277,93h1v1h-1zM281,93h.17v1h-.17zM268,94h1v1h-1zM272,94h1v1h-1zM276,94h1v1h-1zM280,94h1v1h-1zM267.93,95h.07v1h-.07zM271,95h1v1h-1zM275,95h1v1h-1zM279,95h1v1h-1zM270,96h1v1h-1zM274,96h1v1h-1zM278,96h1v1h-1zM269,97h1v1h-1zM273,97h1v1h-1zM277,97h1v1h-1zM281,97h.17v1h-.17zM268,98h1v1h-1zM272,98h1v1h-1zM276,98h1v1h-1zM280,98h1v1h-1zM267.93,99h.07v1h-.07zM271,99h1v1h-1zM275,99h1v1h-1zM279,99h1v1h-1zM270,100h1v1h-1zM274,100h1v1h-1zM278,100h1v1h-1zM269,101h1v1h-1zM273,101h1v1h-1zM277,101h1v1h-1zM281,101h.17v1h-.17zM268,102h1v1h-1zM272,102h1v1h-1zM276,102h1v1h-1zM280,102h1v1h-1zM267.93,103h.07v1h-.07zM271,103h1v1h-1zM275,103h1v1h-1zM279,103h1v1h-1zM270,104h1v1h-1zM274,104h1v1h-1zM278,104h1v1h-1zM269,105h1v1h-1zM273,105h1v1h-1zM277,105h1v1h-1zM281,105h.17v1h-.17zM268,106h1v1h-1zM272,106h1v1h-1zM276,106h1v1h-1zM280,106h1v1h-1zM267.93,107h.07v1h-.07zM271,107h1v1h-1zM275,107h1v1h-1zM279,107h1v1h-1zM270,108h1v1h-1zM274,108h1v1h-1zM278,108h1v1h-1zM269,109h1v1h-1zM273,109h1v1h-1zM277,109h1v1h-1zM281,109h.17v1h-.17zM268,110h1v1h-1zM272,110h1v1h-1zM276,110h1v1h-1zM280,110h1v1h-1zM267.93,111h.07v1h-.07zM271,111h1v1h-1zM275,111h1v1h-1zM279,111h1v1h-1zM270,112h1v1h-1zM274,112h1v1h-1zM278,112h1v1h-1zM269,113h1v1h-1zM273,113h1v1h-1zM277,113h1v1h-1zM281,113h.17v1h-.17zM268,114h1v1h-1zM272,114h1v1h-1zM276,114h1v1h-1zM280,114h1v1h-1zM267.93,115h.07v1h-.07zM271,115h1v1h-1zM275,115h1v1h-1zM279,115h1v1h-1zM270,116h1v1h-1zM274,116h1v1h-1zM278,116h1v1h-1zM269,117h1v1h-1zM273,117h1v1h-1zM277,117h1v1h-1zM281,117h.17v1h-.17zM268,118h1v1h-1zM272,118h1v1h-1zM276,118h1v1h-1zM280,118h1v1h-1zM267.93,119h.07v1h-.07zM271,119h1v1h-1zM275,119h1v1h-1zM279,119h1v1h-1zM270,120h1v1h-1zM274,120h1v1h-1zM278,120h1v1h-1zM269,121h1v1h-1zM273,121h1v1h-1zM277,121h1v1h-1zM281,121h.17v1h-.17zM268,122h1v1h-1zM272,122h1v1h-1zM276,122h1v1h-1zM280,122h1v1h-1zM267.93,123h.07v1h-.07zM271,123h1v1h-1zM275,123h1v1h-1zM279,123h1v1h-1zM270,124h1v1h-1zM274,124h1v1h-1zM278,124h1v1h-1zM269,125h1v1h-1zM273,125h1v1h-1zM277,125h1v1h-1zM281,125h.17v1h-.17zM268,126h1v1h-1zM272,126h1v1h-1zM276,126h1v1h-1zM280,126h1v1h-1zM267.93,127h.07v1h-.07zM271,127h1v1h-1zM275,127h1v1h-1zM279,127h1v1h-1zM270,128h1v1h-1zM274,128h1v1h-1zM278,128h1v1h-1zM269,129h1v1h-1zM273,129h1v1h-1zM277,129h1v1h-1zM281,129h.17v1h-.17zM268,130h1v1h-1zM272,130h1v1h-1zM276,130h1v1h-1zM280,130h1v1h-1zM267.93,131h.07v1h-.07zM271,131h1v1h-1zM275,131h1v1h-1zM279,131h1v1h-1zM270,132h1v1h-1zM274,132h1v1h-1zM278,132h1v1h-1zM269,133h1v1h-1zM273,133h1v1h-1zM277,133h1v1h-1zM281,133h.17v1h-.17zM268,134h1v1h-1zM272,134h1v1h-1zM276,134h1v1h-1zM280,134h1v1h-1zM267.93,135h.07v1h-.07zM271,135h1v1h-1zM275,135h1v1h-1zM279,135h1v1h-1zM270,136h1v1h-1zM274,136h1v1h-1zM278,136h1v1h-1zM269,137h1v1h-1zM273,137h1v1h-1zM277,137h1v1h-1zM281,137h.17v1h-.17zM268,138h1v1h-1zM272,138h1v1h-1zM276,138h1v1h-1zM280,138h1v1h-1zM267.93,139h.07v1h-.07zM271,139h1v1h-1zM275,139h1v1h-1zM279,139h1v1h-1zM270,140h1v1h-1zM274,140h1v1h-1zM278,140h1v1h-1zM269,141h1v1h-1zM273,141h1v1h-1zM277,141h1v1h-1zM281,141h.17v1h-.17zM268,142h1v1h-1zM272,142h1v1h-1zM276,142h1v1h-1zM280,142h1v1h-1zM267.93,143h.07v1h-.07zM271,143h1v1h-1zM275,143h1v1h-1zM279,143h1v1h-1zM270,144h1v1h-1zM274,144h1v1h-1zM278,144h1v1h-1zM269,145h1v1h-1zM273,145h1v1h-1zM277,145h1v1h-1zM281,145h.17v1h-.17zM268,146h1v1h-1zM272,146h1v1h-1zM276,146h1v1h-1zM280,146h1v1h-1zM267.93,147h.07v1h-.07zM271,147h1v1h-1zM275,147h1v1h-1zM279,147h1v1h-1zM270,148h1v1h-1zM274,148h1v1h-1zM278,148h1v1h-1zM269,149h1v1h-1zM273,149h1v1h-1zM277,149h1v1h-1zM281,149h.17v1h-.17zM268,150h1v1h-1zM272,150h1v1h-1zM276,150h1v1h-1zM280,150h1v1h-1zM267.93,151h.07v1h-.07zM271,151h1v1h-1zM275,151h1v1h-1zM279,151h1v1h-1zM270,152h1v1h-1zM274,152h1v1h-1zM278,152h1v1h-1zM269,153h1v1h-1zM273,153h1v1h-1zM277,153h1v1h-1zM281,153h.17v1h-.17zM268,154h1v1h-1zM272,154h1v1h-1zM276,154h1v1h-1zM280,154h1v1h-1zM267.93,155h.07v1h-.07zM271,155h1v1h-1zM275,155h1v1h-1zM279,155h1v1h-1zM270,156h1v1h-1zM274,156h1v1h-1zM278,156h1v1h-1zM269,157h1v1h-1zM273,157h1v1h-1zM277,157h1v1h-1zM281,157h.17v1h-.17zM268,158h1v1h-1zM272,158h1v1h-1zM276,158h1v1h-1zM280,158h1v1h-1zM267.93,159h.07v1h-.07zM271,159h1v1h-1zM275,159h1v1h-1zM279,159h1v1h-1zM270,160h1v1h-1zM274,160h1v1h-1zM278,160h1v1h-1zM269,161h1v1h-1zM273,161h1v1h-1zM277,161h1v1h-1zM281,161h.17v1h-.17zM268,162h1v1h-1zM272,162h1v1h-1zM276,162h1v1h-1zM280,162h1v1h-1zM267.93,163h.07v1h-.07zM271,163h1v1h-1zM275,163h1v1h-1zM279,163h1v1h-1zM270,164h1v1h-1zM274,164h1v1h-1zM278,164h1v1h-1zM269,165h1v1h-1zM273,165h1v1h-1zM277,165h1v1h-1zM281,165h.17v1h-.17zM268,166h1v1h-1zM272,166h1v1h-1zM276,166h1v1h-1zM280,166h1v1h-1zM267.93,167h.07v1h-.07zM271,167h1v1h-1zM275,167h1v1h-1zM279,167h1v1h-1zM270,168h1v1h-1zM274,168h1v1h-1zM278,168h1v1h-1zM269,169h1v1h-1zM273,169h1v1h-1zM277,169h1v1h-1zM281,169h.17v1h-.17zM268,170h1v1h-1zM272,170h1v1h-1zM276,170h1v1h-1zM280,170h1v1h-1zM267.93,171h.07v1h-.07zM271,171h1v1h-1zM275,171h1v1h-1zM279,171h1v1h-1zM270,172h1v1h-1zM274,172h1v1h-1zM278,172h1v1h-1zM269,173h1v1h-1zM273,173h1v1h-1zM277,173h1v1h-1zM281,173h.17v1h-.17zM268,174h1v1h-1zM272,174h1v1h-1zM276,174h1v1h-1zM280,174h1v1h-1zM267.93,175h.07v1h-.07zM271,175h1v1h-1zM275,175h1v1h-1zM279,175h1v1h-1zM270,176h1v1h-1zM274,176h1v1h-1zM278,176h1v1h-1zM269,177h1v1h-1zM273,177h1v1h-1zM277,177h1v1h-1zM281,177h.17v1h-.17zM268,178h1v1h-1zM272,178h1v1h-1zM276,178h1v1h-1zM280,178h1v1h-1zM267.93,179h.07v1h-.07zM271,179h1v1h-1zM275,179h1v1h-1zM279,179h1v1h-1zM270,180h1v1h-1zM274,180h1v1h-1zM278,180h1v1h-1zM269,181h1v1h-1zM273,181h1v1h-1zM277,181h1v1h-1zM281,181h.17v1h-.17zM268,182h1v1h-1zM272,182h1v1h-1zM276,182h1v1h-1zM280,182h1v1h-1zM267.93,183h.07v1h-.07zM271,183h1v1h-1zM275,183h1v1h-1zM279,183h1v1h-1zM270,184h1v1h-1zM274,184h1v1h-1zM278,184h1v1h-1zM269,185h1v1h-1zM273,185h1v1h-1zM277,185h1v1h-1zM281,185h.17v1h-.17zM268,186h1v1h-1zM272,186h1v1h-1zM276,186h1v1h-1zM280,186h1v1h-1zM267.93,187h.07v1h-.07zM271,187h1v1h-1zM275,187h1v1h-1zM279,187h1v1h-1zM270,188h1v1h-1zM274,188h1v1h-1zM278,188h1v1h-1zM269,189h1v1h-1zM273,189h1v1h-1zM277,189h1v1h-1zM281,189h.17v1h-.17zM268,190h1v1h-1zM272,190h1v1h-1zM276,190h1v1h-1zM280,190h1v1h-1zM267.93,191h.07v1h-.07zM271,191h1v1h-1zM275,191h1v1h-1zM279,191h1v1h-1zM270,192h1v1h-1zM274,192h1v1h-1zM278,192h1v1h-1zM269,193h1v1h-1zM273,193h1v1h-1zM277,193h1v1h-1zM281,193h.17v1h-.17zM268,194h1v1h-1zM272,194h1v1h-1zM276,194h1v1h-1zM280,194h1v1h-1zM267.93,195h.07v1h-.07zM271,195h1v1h-1zM275,195h1v1h-1zM279,195h1v1h-1zM270,196h1v1h-1zM274,196h1v1h-1zM278,196h1v1h-1zM269,197h1v1h-1zM273,197h1v1h-1zM277,197h1v1h-1zM281,197h.17v1h-.17zM268,198h1v1h-1zM272,198h1v1h-1zM276,198h1v1h-1zM280,198h1v1h-1zM267.93,199h.07v1h-.07zM271,199h1v1h-1zM275,199h1v1h-1zM279,199h1v1h-1zM270,200h1v1h-1zM274,200h1v1h-1zM278,200h1v1h-1zM269,201h1v1h-1zM273,201h1v1h-1zM277,201h1v1h-1zM281,201h.17v1h-.17zM268,202h1v1h-1zM272,202h1v1h-1zM276,202h1v1h-1zM280,202h1v1h-1zM267.93,203h.07v1h-.07zM271,203h1v1h-1zM275,203h1v1h-1zM279,203h1v1h-1zM270,204h1v1h-1zM274,204h1v1h-1zM278,204h1v1h-1zM269,205h1v1h-1zM273,205h1v1h-1zM277,205h1v1h-1zM281,205h.17v1h-.17zM268,206h1v1h-1zM272,206h1v1h-1zM276,206h1v1h-1zM280,206h1v1h-1zM267.93,207h.07v1h-.07zM271,207h1v1h-1zM275,207h1v1h-1zM279,207h1v1h-1zM270,208h1v1h-1zM274,208h1v1h-1zM278,208h1v1h-1zM269,209h1v1h-1zM273,209h1v1h-1zM277,209h1v1h-1zM281,209h.17v1h-.17zM268,210h1v1h-1zM272,210h1v1h-1zM276,210h1v1h-1zM280,210h1v1h-1zM267.93,211h.07v1h-.07zM271,211h1v1h-1zM275,211h1v1h-1zM279,211h1v1h-1zM270,212h1v1h-1zM274,212h1v1h-1zM278,212h1v1h-1zM269,213h1v1h-1zM273,213h1v1h-1zM277,213h1v1h-1zM281,213h.17v1h-.17zM268,214h1v1h-1zM272,214h1v1h-1zM276,214h1v1h-1zM280,214h1v1h-1zM267.93,215h.07v1h-.07zM271,215h1v1h-1zM275,215h1v1h-1zM279,215h1v1h-1zM270,216h1v1h-1zM274,216h1v1h-1zM278,216h1v1h-1zM269,217h1v1h-1zM273,217h1v1h-1zM277,217h1v1h-1zM281,217h.17v1h-.17zM268,218h1v1h-1zM272,218h1v1h-1zM276,218h1v1h-1zM280,218h1v1h-1zM267.93,219h.07v1h-.07zM271,219h1v1h-1zM275,219h1v1h-1zM279,219h1v1h-1zM270,220h1v1h-1zM274,220h1v1h-1zM278,220h1v1h-1zM269,221h1v1h-1zM273,221h1v1h-1zM277,221h1v1h-1zM281,221h.17v1h-.17zM268,222h1v1h-1zM272,222h1v1h-1zM276,222h1v1h-1zM280,222h1v1h-1zM267.93,223h.07v1h-.07zM271,223h1v1h-1zM275,223h1v1h-1zM279,223h1v1h-1zM270,224h1v1h-1zM274,224h1v1h-1zM278,224h1v1h-1zM269,225h1v1h-1zM273,225h1v1h-1zM277,225h1v1h-1zM281,225h.17v1h-.17zM268,226h1v.5h-1zM272,226h1v.5h-1zM276,226h1v.5h-1zM280,226h1v.5h-1z" fill="#000"/>
<rect x="452.08" y="141.55" width="24.83" height="242.70" fill="none" stroke="#000" stroke-width="3.5" stroke-linejoin="round"/>
<path d="M489.32,86.90 V71.85 M485.97,71.85 H492.67" stroke="#000" stroke-width="3.4" stroke-linecap="square" fill="none"/>
<rect x="476.91" y="86.90" width="24.83" height="297.35" fill="#fff"/>
<path transform="translate(-0.8475,-0.8475) scale(1.69492)" d="M282.58,52.48h2.42v.52h-2.42zM290,52.48h3v.52h-3zM283,53h3v1h-3zM291,53h3v1h-3zM284,54h3v1h-3zM292,54h3v1h-3zM285,55h3v1h-3zM293,55h2.82v1h-2.82zM286,56h3v1h-3zM294,56h1.82v1h-1.82zM287,57h3v1h-3zM295,57h.82v1h-.82zM282.58,58h.42v1h-.42zM288,58h3v1h-3zM282.58,59h1.42v1h-1.42zM289,59h3v1h-3zM282.58,60h2.42v1h-2.42zM290,60h3v1h-3zM283,61h3v1h-3zM291,61h3v1h-3zM284,62h3v1h-3zM292,62h3v1h-3zM285,63h3v1h-3zM293,63h2.82v1h-2.82zM286,64h3v1h-3zM294,64h1.82v1h-1.82zM287,65h3v1h-3zM295,65h.82v1h-.82zM282.58,66h.42v1h-.42zM288,66h3v1h-3zM282.58,67h1.42v1h-1.42zM289,67h3v1h-3zM282.58,68h2.42v1h-2.42zM290,68h3v1h-3zM283,69h3v1h-3zM291,69h3v1h-3zM284,70h3v1h-3zM292,70h3v1h-3zM285,71h3v1h-3zM293,71h2.82v1h-2.82zM286,72h3v1h-3zM294,72h1.82v1h-1.82zM287,73h3v1h-3zM295,73h.82v1h-.82zM282.58,74h.42v1h-.42zM288,74h3v1h-3zM282.58,75h1.42v1h-1.42zM289,75h3v1h-3zM282.58,76h2.42v1h-2.42zM290,76h3v1h-3zM283,77h3v1h-3zM291,77h3v1h-3zM284,78h3v1h-3zM292,78h3v1h-3zM285,79h3v1h-3zM293,79h2.82v1h-2.82zM286,80h3v1h-3zM294,80h1.82v1h-1.82zM287,81h3v1h-3zM295,81h.82v1h-.82zM282.58,82h.42v1h-.42zM288,82h3v1h-3zM282.58,83h1.42v1h-1.42zM289,83h3v1h-3zM282.58,84h2.42v1h-2.42zM290,84h3v1h-3zM283,85h3v1h-3zM291,85h3v1h-3zM284,86h3v1h-3zM292,86h3v1h-3zM285,87h3v1h-3zM293,87h2.82v1h-2.82zM286,88h3v1h-3zM294,88h1.82v1h-1.82zM287,89h3v1h-3zM295,89h.82v1h-.82zM282.58,90h.42v1h-.42zM288,90h3v1h-3zM282.58,91h1.42v1h-1.42zM289,91h3v1h-3zM282.58,92h2.42v1h-2.42zM290,92h3v1h-3zM283,93h3v1h-3zM291,93h3v1h-3zM284,94h3v1h-3zM292,94h3v1h-3zM285,95h3v1h-3zM293,95h2.82v1h-2.82zM286,96h3v1h-3zM294,96h1.82v1h-1.82zM287,97h3v1h-3zM295,97h.82v1h-.82zM282.58,98h.42v1h-.42zM288,98h3v1h-3zM282.58,99h1.42v1h-1.42zM289,99h3v1h-3zM282.58,100h2.42v1h-2.42zM290,100h3v1h-3zM283,101h3v1h-3zM291,101h3v1h-3zM284,102h3v1h-3zM292,102h3v1h-3zM285,103h3v1h-3zM293,103h2.82v1h-2.82zM286,104h3v1h-3zM294,104h1.82v1h-1.82zM287,105h3v1h-3zM295,105h.82v1h-.82zM282.58,106h.42v1h-.42zM288,106h3v1h-3zM282.58,107h1.42v1h-1.42zM289,107h3v1h-3zM282.58,108h2.42v1h-2.42zM290,108h3v1h-3zM283,109h3v1h-3zM291,109h3v1h-3zM284,110h3v1h-3zM292,110h3v1h-3zM285,111h3v1h-3zM293,111h2.82v1h-2.82zM286,112h3v1h-3zM294,112h1.82v1h-1.82zM287,113h3v1h-3zM295,113h.82v1h-.82zM282.58,114h.42v1h-.42zM288,114h3v1h-3zM282.58,115h1.42v1h-1.42zM289,115h3v1h-3zM282.58,116h2.42v1h-2.42zM290,116h3v1h-3zM283,117h3v1h-3zM291,117h3v1h-3zM284,118h3v1h-3zM292,118h3v1h-3zM285,119h3v1h-3zM293,119h2.82v1h-2.82zM286,120h3v1h-3zM294,120h1.82v1h-1.82zM287,121h3v1h-3zM295,121h.82v1h-.82zM282.58,122h.42v1h-.42zM288,122h3v1h-3zM282.58,123h1.42v1h-1.42zM289,123h3v1h-3zM282.58,124h2.42v1h-2.42zM290,124h3v1h-3zM283,125h3v1h-3zM291,125h3v1h-3zM284,126h3v1h-3zM292,126h3v1h-3zM285,127h3v1h-3zM293,127h2.82v1h-2.82zM286,128h3v1h-3zM294,128h1.82v1h-1.82zM287,129h3v1h-3zM295,129h.82v1h-.82zM282.58,130h.42v1h-.42zM288,130h3v1h-3zM282.58,131h1.42v1h-1.42zM289,131h3v1h-3zM282.58,132h2.42v1h-2.42zM290,132h3v1h-3zM283,133h3v1h-3zM291,133h3v1h-3zM284,134h3v1h-3zM292,134h3v1h-3zM285,135h3v1h-3zM293,135h2.82v1h-2.82zM286,136h3v1h-3zM294,136h1.82v1h-1.82zM287,137h3v1h-3zM295,137h.82v1h-.82zM282.58,138h.42v1h-.42zM288,138h3v1h-3zM282.58,139h1.42v1h-1.42zM289,139h3v1h-3zM282.58,140h2.42v1h-2.42zM290,140h3v1h-3zM283,141h3v1h-3zM291,141h3v1h-3zM284,142h3v1h-3zM292,142h3v1h-3zM285,143h3v1h-3zM293,143h2.82v1h-2.82zM286,144h3v1h-3zM294,144h1.82v1h-1.82zM287,145h3v1h-3zM295,145h.82v1h-.82zM282.58,146h.42v1h-.42zM288,146h3v1h-3zM282.58,147h1.42v1h-1.42zM289,147h3v1h-3zM282.58,148h2.42v1h-2.42zM290,148h3v1h-3zM283,149h3v1h-3zM291,149h3v1h-3zM284,150h3v1h-3zM292,150h3v1h-3zM285,151h3v1h-3zM293,151h2.82v1h-2.82zM286,152h3v1h-3zM294,152h1.82v1h-1.82zM287,153h3v1h-3zM295,153h.82v1h-.82zM282.58,154h.42v1h-.42zM288,154h3v1h-3zM282.58,155h1.42v1h-1.42zM289,155h3v1h-3zM282.58,156h2.42v1h-2.42zM290,156h3v1h-3zM283,157h3v1h-3zM291,157h3v1h-3zM284,158h3v1h-3zM292,158h3v1h-3zM285,159h3v1h-3zM293,159h2.82v1h-2.82zM286,160h3v1h-3zM294,160h1.82v1h-1.82zM287,161h3v1h-3zM295,161h.82v1h-.82zM282.58,162h.42v1h-.42zM288,162h3v1h-3zM282.58,163h1.42v1h-1.42zM289,163h3v1h-3zM282.58,164h2.42v1h-2.42zM290,164h3v1h-3zM283,165h3v1h-3zM291,165h3v1h-3zM284,166h3v1h-3zM292,166h3v1h-3zM285,167h3v1h-3zM293,167h2.82v1h-2.82zM286,168h3v1h-3zM294,168h1.82v1h-1.82zM287,169h3v1h-3zM295,169h.82v1h-.82zM282.58,170h.42v1h-.42zM288,170h3v1h-3zM282.58,171h1.42v1h-1.42zM289,171h3v1h-3zM282.58,172h2.42v1h-2.42zM290,172h3v1h-3zM283,173h3v1h-3zM291,173h3v1h-3zM284,174h3v1h-3zM292,174h3v1h-3zM285,175h3v1h-3zM293,175h2.82v1h-2.82zM286,176h3v1h-3zM294,176h1.82v1h-1.82zM287,177h3v1h-3zM295,177h.82v1h-.82zM282.58,178h.42v1h-.42zM288,178h3v1h-3zM282.58,179h1.42v1h-1.42zM289,179h3v1h-3zM282.58,180h2.42v1h-2.42zM290,180h3v1h-3zM283,181h3v1h-3zM291,181h3v1h-3zM284,182h3v1h-3zM292,182h3v1h-3zM285,183h3v1h-3zM293,183h2.82v1h-2.82zM286,184h3v1h-3zM294,184h1.82v1h-1.82zM287,185h3v1h-3zM295,185h.82v1h-.82zM282.58,186h.42v1h-.42zM288,186h3v1h-3zM282.58,187h1.42v1h-1.42zM289,187h3v1h-3zM282.58,188h2.42v1h-2.42zM290,188h3v1h-3zM283,189h3v1h-3zM291,189h3v1h-3zM284,190h3v1h-3zM292,190h3v1h-3zM285,191h3v1h-3zM293,191h2.82v1h-2.82zM286,192h3v1h-3zM294,192h1.82v1h-1.82zM287,193h3v1h-3zM295,193h.82v1h-.82zM282.58,194h.42v1h-.42zM288,194h3v1h-3zM282.58,195h1.42v1h-1.42zM289,195h3v1h-3zM282.58,196h2.42v1h-2.42zM290,196h3v1h-3zM283,197h3v1h-3zM291,197h3v1h-3zM284,198h3v1h-3zM292,198h3v1h-3zM285,199h3v1h-3zM293,199h2.82v1h-2.82zM286,200h3v1h-3zM294,200h1.82v1h-1.82zM287,201h3v1h-3zM295,201h.82v1h-.82zM282.58,202h.42v1h-.42zM288,202h3v1h-3zM282.58,203h1.42v1h-1.42zM289,203h3v1h-3zM282.58,204h2.42v1h-2.42zM290,204h3v1h-3zM283,205h3v1h-3zM291,205h3v1h-3zM284,206h3v1h-3zM292,206h3v1h-3zM285,207h3v1h-3zM293,207h2.82v1h-2.82zM286,208h3v1h-3zM294,208h1.82v1h-1.82zM287,209h3v1h-3zM295,209h.82v1h-.82zM282.58,210h.42v1h-.42zM288,210h3v1h-3zM282.58,211h1.42v1h-1.42zM289,211h3v1h-3zM282.58,212h2.42v1h-2.42zM290,212h3v1h-3zM283,213h3v1h-3zM291,213h3v1h-3zM284,214h3v1h-3zM292,214h3v1h-3zM285,215h3v1h-3zM293,215h2.82v1h-2.82zM286,216h3v1h-3zM294,216h1.82v1h-1.82zM287,217h3v1h-3zM295,217h.82v1h-.82zM282.58,218h.42v1h-.42zM288,218h3v1h-3zM282.58,219h1.42v1h-1.42zM289,219h3v1h-3zM282.58,220h2.42v1h-2.42zM290,220h3v1h-3zM283,221h3v1h-3zM291,221h3v1h-3zM284,222h3v1h-3zM292,222h3v1h-3zM285,223h3v1h-3zM293,223h2.82v1h-2.82zM286,224h3v1h-3zM294,224h1.82v1h-1.82zM287,225h3v1h-3zM295,225h.82v1h-.82zM282.58,226h.42v.5h-.42zM288,226h3v.5h-3z" fill="#000"/>
<rect x="476.91" y="86.90" width="24.83" height="297.35" fill="none" stroke="#000" stroke-width="3.5" stroke-linejoin="round"/>
<path d="M551.42,353.95 V352.70 M548.07,352.70 H554.77" stroke="#000" stroke-width="3.4" stroke-linecap="square" fill="none"/>
<rect x="539.00" y="353.95" width="24.83" height="30.30" fill="#000" stroke="#000" stroke-width="3.5" stroke-linejoin="round"/>
<path d="M576.25,356.35 V355.30 M572.90,355.30 H579.60" stroke="#000" stroke-width="3.4" stroke-linecap="square" fill="none"/>
<rect x="563.84" y="356.35" width="24.83" height="27.90" fill="#fff"/>
<path transform="translate(-0.8475,-0.8475) scale(1.69492)" d="M334,211.45h1v.55h-1zM338,211.45h1v.55h-1zM342,211.45h1v.55h-1zM346,211.45h1v.55h-1zM335,212h1v1h-1zM339,212h1v1h-1zM343,212h1v1h-1zM347,212h.1v1h-.1zM336,213h1v1h-1zM340,213h1v1h-1zM344,213h1v1h-1zM333.87,214h.13v1h-.13zM337,214h1v1h-1zM341,214h1v1h-1zM345,214h1v1h-1zM334,215h1v1h-1zM338,215h1v1h-1zM342,215h1v1h-1zM346,215h1v1h-1zM335,216h1v1h-1zM339,216h1v1h-1zM343,216h1v1h-1zM347,216h.1v1h-.1zM336,217h1v1h-1zM340,217h1v1h-1zM344,217h1v1h-1zM333.87,218h.13v1h-.13zM337,218h1v1h-1zM341,218h1v1h-1zM345,218h1v1h-1zM334,219h1v1h-1zM338,219h1v1h-1zM342,219h1v1h-1zM346,219h1v1h-1zM335,220h1v1h-1zM339,220h1v1h-1zM343,220h1v1h-1zM347,220h.1v1h-.1zM336,221h1v1h-1zM340,221h1v1h-1zM344,221h1v1h-1zM333.87,222h.13v1h-.13zM337,222h1v1h-1zM341,222h1v1h-1zM345,222h1v1h-1zM334,223h1v1h-1zM338,223h1v1h-1zM342,223h1v1h-1zM346,223h1v1h-1zM335,224h1v1h-1zM339,224h1v1h-1zM343,224h1v1h-1zM347,224h.1v1h-.1zM336,225h1v1h-1zM340,225h1v1h-1zM344,225h1v1h-1zM333.87,226h.13v.5h-.13zM337,226h1v.5h-1zM341,226h1v.5h-1zM345,226h1v.5h-1z" fill="#000"/>
<rect x="563.84" y="356.35" width="24.83" height="27.90" fill="none" stroke="#000" stroke-width="3.5" stroke-linejoin="round"/>
<path d="M601.08,355.75 V353.80 M597.73,353.80 H604.43" stroke="#000" stroke-width="3.4" stroke-linecap="square" fill="none"/>
<rect x="588.66" y="355.75" width="24.83" height="28.50" fill="#fff"/>
<path transform="translate(-0.8475,-0.8475) scale(1.69492)" d="M351,211.1h1v.9h-1zM355,211.1h1v.9h-1zM359,211.1h1v.9h-1zM350,212h1v1h-1zM354,212h1v1h-1zM358,212h1v1h-1zM349,213h1v1h-1zM353,213h1v1h-1zM357,213h1v1h-1zM361,213h.75v1h-.75zM348.52,214h.48v1h-.48zM352,214h1v1h-1zM356,214h1v1h-1zM360,214h1v1h-1zM351,215h1v1h-1zM355,215h1v1h-1zM359,215h1v1h-1zM350,216h1v1h-1zM354,216h1v1h-1zM358,216h1v1h-1zM349,217h1v1h-1zM353,217h1v1h-1zM357,217h1v1h-1zM361,217h.75v1h-.75zM348.52,218h.48v1h-.48zM352,218h1v1h-1zM356,218h1v1h-1zM360,218h1v1h-1zM351,219h1v1h-1zM355,219h1v1h-1zM359,219h1v1h-1zM350,220h1v1h-1zM354,220h1v1h-1zM358,220h1v1h-1zM349,221h1v1h-1zM353,221h1v1h-1zM357,221h1v1h-1zM361,221h.75v1h-.75zM348.52,222h.48v1h-.48zM352,222h1v1h-1zM356,222h1v1h-1zM360,222h1v1h-1zM351,223h1v1h-1zM355,223h1v1h-1zM359,223h1v1h-1zM350,224h1v1h-1zM354,224h1v1h-1zM358,224h1v1h-1zM349,225h1v1h-1zM353,225h1v1h-1zM357,225h1v1h-1zM361,225h.75v1h-.75zM348.52,226h.48v.5h-.48zM352,226h1v.5h-1zM356,226h1v.5h-1zM360,226h1v.5h-1z" fill="#000"/>
<rect x="588.66" y="355.75" width="24.83" height="28.50" fill="none" stroke="#000" stroke-width="3.5" stroke-linejoin="round"/>
<path d="M625.91,350.35 V347.80 M622.56,347.80 H629.26" stroke="#000" stroke-width="3.4" stroke-linecap="square" fill="none"/>
<rect x="613.50" y="350.35" width="24.83" height="33.90" fill="#fff"/>
<path transform="translate(-0.8475,-0.8475) scale(1.69492)" d="M365,207.91h3v.09h-3zM373,207.91h3v.09h-3zM366,208h3v1h-3zM374,208h2.4v1h-2.4zM367,209h3v1h-3zM375,209h1.4v1h-1.4zM368,210h3v1h-3zM376,210h.4v1h-.4zM363.17,211h.83v1h-.83zM369,211h3v1h-3zM363.17,212h1.83v1h-1.83zM370,212h3v1h-3zM363.17,213h2.83v1h-2.83zM371,213h3v1h-3zM364,214h3v1h-3zM372,214h3v1h-3zM365,215h3v1h-3zM373,215h3v1h-3zM366,216h3v1h-3zM374,216h2.4v1h-2.4zM367,217h3v1h-3zM375,217h1.4v1h-1.4zM368,218h3v1h-3zM376,218h.4v1h-.4zM363.17,219h.83v1h-.83zM369,219h3v1h-3zM363.17,220h1.83v1h-1.83zM370,220h3v1h-3zM363.17,221h2.83v1h-2.83zM371,221h3v1h-3zM364,222h3v1h-3zM372,222h3v1h-3zM365,223h3v1h-3zM373,223h3v1h-3zM366,224h3v1h-3zM374,224h2.4v1h-2.4zM367,225h3v1h-3zM375,225h1.4v1h-1.4zM368,226h3v.5h-3zM376,226h.4v.5h-.4z" fill="#000"/>
<rect x="613.50" y="350.35" width="24.83" height="33.90" fill="none" stroke="#000" stroke-width="3.5" stroke-linejoin="round"/>
<path d="M688.01,298.35 V291.90 M684.66,291.90 H691.36" stroke="#000" stroke-width="3.4" stroke-linecap="square" fill="none"/>
<rect x="675.60" y="298.35" width="24.83" height="85.90" fill="#000" stroke="#000" stroke-width="3.5" stroke-linejoin="round"/>
<path d="M712.84,300.55 V289.85 M709.49,289.85 H716.19" stroke="#000" stroke-width="3.4" stroke-linecap="square" fill="none"/>
<rect x="700.43" y="300.55" width="24.83" height="83.70" fill="#fff"/>
<path transform="translate(-0.8475,-0.8475) scale(1.69492)" d="M417,178.53h1v.47h-1zM421,178.53h1v.47h-1zM425,178.53h1v.47h-1zM414.46,179h.54v1h-.54zM418,179h1v1h-1zM422,179h1v1h-1zM426,179h1v1h-1zM415,180h1v1h-1zM419,180h1v1h-1zM423,180h1v1h-1zM427,180h.69v1h-.69zM416,181h1v1h-1zM420,181h1v1h-1zM424,181h1v1h-1zM417,182h1v1h-1zM421,182h1v1h-1zM425,182h1v1h-1zM414.46,183h.54v1h-.54zM418,183h1v1h-1zM422,183h1v1h-1zM426,183h1v1h-1zM415,184h1v1h-1zM419,184h1v1h-1zM423,184h1v1h-1zM427,184h.69v1h-.69zM416,185h1v1h-1zM420,185h1v1h-1zM424,185h1v1h-1zM417,186h1v1h-1zM421,186h1v1h-1zM425,186h1v1h-1zM414.46,187h.54v1h-.54zM418,187h1v1h-1zM422,187h1v1h-1zM426,187h1v1h-1zM415,188h1v1h-1zM419,188h1v1h-1zM423,188h1v1h-1zM427,188h.69v1h-.69zM416,189h1v1h-1zM420,189h1v1h-1zM424,189h1v1h-1zM417,190h1v1h-1zM421,190h1v1h-1zM425,190h1v1h-1zM414.46,191h.54v1h-.54zM418,191h1v1h-1zM422,191h1v1h-1zM426,191h1v1h-1zM415,192h1v1h-1zM419,192h1v1h-1zM423,192h1v1h-1zM427,192h.69v1h-.69zM416,193h1v1h-1zM420,193h1v1h-1zM424,193h1v1h-1zM417,194h1v1h-1zM421,194h1v1h-1zM425,194h1v1h-1zM414.46,195h.54v1h-.54zM418,195h1v1h-1zM422,195h1v1h-1zM426,195h1v1h-1zM415,196h1v1h-1zM419,196h1v1h-1zM423,196h1v1h-1zM427,196h.69v1h-.69zM416,197h1v1h-1zM420,197h1v1h-1zM424,197h1v1h-1zM417,198h1v1h-1zM421,198h1v1h-1zM425,198h1v1h-1zM414.46,199h.54v1h-.54zM418,199h1v1h-1zM422,199h1v1h-1zM426,199h1v1h-1zM415,200h1v1h-1zM419,200h1v1h-1zM423,200h1v1h-1zM427,200h.69v1h-.69zM416,201h1v1h-1zM420,201h1v1h-1zM424,201h1v1h-1zM417,202h1v1h-1zM421,202h1v1h-1zM425,202h1v1h-1zM414.46,203h.54v1h-.54zM418,203h1v1h-1zM422,203h1v1h-1zM426,203h1v1h-1zM415,204h1v1h-1zM419,204h1v1h-1zM423,204h1v1h-1zM427,204h.69v1h-.69zM416,205h1v1h-1zM420,205h1v1h-1zM424,205h1v1h-1zM417,206h1v1h-1zM421,206h1v1h-1zM425,206h1v1h-1zM414.46,207h.54v1h-.54zM418,207h1v1h-1zM422,207h1v1h-1zM426,207h1v1h-1zM415,208h1v1h-1zM419,208h1v1h-1zM423,208h1v1h-1zM427,208h.69v1h-.69zM416,209h1v1h-1zM420,209h1v1h-1zM424,209h1v1h-1zM417,210h1v1h-1zM421,210h1v1h-1zM425,210h1v1h-1zM414.46,211h.54v1h-.54zM418,211h1v1h-1zM422,211h1v1h-1zM426,211h1v1h-1zM415,212h1v1h-1zM419,212h1v1h-1zM423,212h1v1h-1zM427,212h.69v1h-.69zM416,213h1v1h-1zM420,213h1v1h-1zM424,213h1v1h-1zM417,214h1v1h-1zM421,214h1v1h-1zM425,214h1v1h-1zM414.46,215h.54v1h-.54zM418,215h1v1h-1zM422,215h1v1h-1zM426,215h1v1h-1zM415,216h1v1h-1zM419,216h1v1h-1zM423,216h1v1h-1zM427,216h.69v1h-.69zM416,217h1v1h-1zM420,217h1v1h-1zM424,217h1v1h-1zM417,218h1v1h-1zM421,218h1v1h-1zM425,218h1v1h-1zM414.46,219h.54v1h-.54zM418,219h1v1h-1zM422,219h1v1h-1zM426,219h1v1h-1zM415,220h1v1h-1zM419,220h1v1h-1zM423,220h1v1h-1zM427,220h.69v1h-.69zM416,221h1v1h-1zM420,221h1v1h-1zM424,221h1v1h-1zM417,222h1v1h-1zM421,222h1v1h-1zM425,222h1v1h-1zM414.46,223h.54v1h-.54zM418,223h1v1h-1zM422,223h1v1h-1zM426,223h1v1h-1zM415,224h1v1h-1zM419,224h1v1h-1zM423,224h1v1h-1zM427,224h.69v1h-.69zM416,225h1v1h-1zM420,225h1v1h-1zM424,225h1v1h-1zM417,226h1v.5h-1zM421,226h1v.5h-1zM425,226h1v.5h-1z" fill="#000"/>
<rect x="700.43" y="300.55" width="24.83" height="83.70" fill="none" stroke="#000" stroke-width="3.5" stroke-linejoin="round"/>
<path d="M737.67,297.15 V288.00 M734.32,288.00 H741.02" stroke="#000" stroke-width="3.4" stroke-linecap="square" fill="none"/>
<rect x="725.25" y="297.15" width="24.83" height="87.10" fill="#fff"/>
<path transform="translate(-0.8475,-0.8475) scale(1.69492)" d="M430,176.53h1v.47h-1zM434,176.53h1v.47h-1zM438,176.53h1v.47h-1zM442,176.53h.34v.47h-.34zM429.11,177h.89v1h-.89zM433,177h1v1h-1zM437,177h1v1h-1zM441,177h1v1h-1zM432,178h1v1h-1zM436,178h1v1h-1zM440,178h1v1h-1zM431,179h1v1h-1zM435,179h1v1h-1zM439,179h1v1h-1zM430,180h1v1h-1zM434,180h1v1h-1zM438,180h1v1h-1zM442,180h.34v1h-.34zM429.11,181h.89v1h-.89zM433,181h1v1h-1zM437,181h1v1h-1zM441,181h1v1h-1zM432,182h1v1h-1zM436,182h1v1h-1zM440,182h1v1h-1zM431,183h1v1h-1zM435,183h1v1h-1zM439,183h1v1h-1zM430,184h1v1h-1zM434,184h1v1h-1zM438,184h1v1h-1zM442,184h.34v1h-.34zM429.11,185h.89v1h-.89zM433,185h1v1h-1zM437,185h1v1h-1zM441,185h1v1h-1zM432,186h1v1h-1zM436,186h1v1h-1zM440,186h1v1h-1zM431,187h1v1h-1zM435,187h1v1h-1zM439,187h1v1h-1zM430,188h1v1h-1zM434,188h1v1h-1zM438,188h1v1h-1zM442,188h.34v1h-.34zM429.11,189h.89v1h-.89zM433,189h1v1h-1zM437,189h1v1h-1zM441,189h1v1h-1zM432,190h1v1h-1zM436,190h1v1h-1zM440,190h1v1h-1zM431,191h1v1h-1zM435,191h1v1h-1zM439,191h1v1h-1zM430,192h1v1h-1zM434,192h1v1h-1zM438,192h1v1h-1zM442,192h.34v1h-.34zM429.11,193h.89v1h-.89zM433,193h1v1h-1zM437,193h1v1h-1zM441,193h1v1h-1zM432,194h1v1h-1zM436,194h1v1h-1zM440,194h1v1h-1zM431,195h1v1h-1zM435,195h1v1h-1zM439,195h1v1h-1zM430,196h1v1h-1zM434,196h1v1h-1zM438,196h1v1h-1zM442,196h.34v1h-.34zM429.11,197h.89v1h-.89zM433,197h1v1h-1zM437,197h1v1h-1zM441,197h1v1h-1zM432,198h1v1h-1zM436,198h1v1h-1zM440,198h1v1h-1zM431,199h1v1h-1zM435,199h1v1h-1zM439,199h1v1h-1zM430,200h1v1h-1zM434,200h1v1h-1zM438,200h1v1h-1zM442,200h.34v1h-.34zM429.11,201h.89v1h-.89zM433,201h1v1h-1zM437,201h1v1h-1zM441,201h1v1h-1zM432,202h1v1h-1zM436,202h1v1h-1zM440,202h1v1h-1zM431,203h1v1h-1zM435,203h1v1h-1zM439,203h1v1h-1zM430,204h1v1h-1zM434,204h1v1h-1zM438,204h1v1h-1zM442,204h.34v1h-.34zM429.11,205h.89v1h-.89zM433,205h1v1h-1zM437,205h1v1h-1zM441,205h1v1h-1zM432,206h1v1h-1zM436,206h1v1h-1zM440,206h1v1h-1zM431,207h1v1h-1zM435,207h1v1h-1zM439,207h1v1h-1zM430,208h1v1h-1zM434,208h1v1h-1zM438,208h1v1h-1zM442,208h.34v1h-.34zM429.11,209h.89v1h-.89zM433,209h1v1h-1zM437,209h1v1h-1zM441,209h1v1h-1zM432,210h1v1h-1zM436,210h1v1h-1zM440,210h1v1h-1zM431,211h1v1h-1zM435,211h1v1h-1zM439,211h1v1h-1zM430,212h1v1h-1zM434,212h1v1h-1zM438,212h1v1h-1zM442,212h.34v1h-.34zM429.11,213h.89v1h-.89zM433,213h1v1h-1zM437,213h1v1h-1zM441,213h1v1h-1zM432,214h1v1h-1zM436,214h1v1h-1zM440,214h1v1h-1zM431,215h1v1h-1zM435,215h1v1h-1zM439,215h1v1h-1zM430,216h1v1h-1zM434,216h1v1h-1zM438,216h1v1h-1zM442,216h.34v1h-.34zM429.11,217h.89v1h-.89zM433,217h1v1h-1zM437,217h1v1h-1zM441,217h1v1h-1zM432,218h1v1h-1zM436,218h1v1h-1zM440,218h1v1h-1zM431,219h1v1h-1zM435,219h1v1h-1zM439,219h1v1h-1zM430,220h1v1h-1zM434,220h1v1h-1zM438,220h1v1h-1zM442,220h.34v1h-.34zM429.11,221h.89v1h-.89zM433,221h1v1h-1zM437,221h1v1h-1zM441,221h1v1h-1zM432,222h1v1h-1zM436,222h1v1h-1zM440,222h1v1h-1zM431,223h1v1h-1zM435,223h1v1h-1zM439,223h1v1h-1zM430,224h1v1h-1zM434,224h1v1h-1zM438,224h1v1h-1zM442,224h.34v1h-.34zM429.11,225h.89v1h-.89zM433,225h1v1h-1zM437,225h1v1h-1zM441,225h1v1h-1zM432,226h1v.5h-1zM436,226h1v.5h-1zM440,226h1v.5h-1z" fill="#000"/>
<rect x="725.25" y="297.15" width="24.83" height="87.10" fill="none" stroke="#000" stroke-width="3.5" stroke-linejoin="round"/>
<path d="M762.50,295.90 V286.80 M759.15,286.80 H765.85" stroke="#000" stroke-width="3.4" stroke-linecap="square" fill="none"/>
<rect x="750.09" y="295.90" width="24.83" height="88.35" fill="#fff"/>
<path transform="translate(-0.8475,-0.8475) scale(1.69492)" d="M445,175.79h3v.21h-3zM453,175.79h3v.21h-3zM446,176h3v1h-3zM454,176h2.99v1h-2.99zM447,177h3v1h-3zM455,177h1.99v1h-1.99zM448,178h3v1h-3zM456,178h.99v1h-.99zM443.76,179h.24v1h-.24zM449,179h3v1h-3zM443.76,180h1.24v1h-1.24zM450,180h3v1h-3zM443.76,181h2.24v1h-2.24zM451,181h3v1h-3zM444,182h3v1h-3zM452,182h3v1h-3zM445,183h3v1h-3zM453,183h3v1h-3zM446,184h3v1h-3zM454,184h2.99v1h-2.99zM447,185h3v1h-3zM455,185h1.99v1h-1.99zM448,186h3v1h-3zM456,186h.99v1h-.99zM443.76,187h.24v1h-.24zM449,187h3v1h-3zM443.76,188h1.24v1h-1.24zM450,188h3v1h-3zM443.76,189h2.24v1h-2.24zM451,189h3v1h-3zM444,190h3v1h-3zM452,190h3v1h-3zM445,191h3v1h-3zM453,191h3v1h-3zM446,192h3v1h-3zM454,192h2.99v1h-2.99zM447,193h3v1h-3zM455,193h1.99v1h-1.99zM448,194h3v1h-3zM456,194h.99v1h-.99zM443.76,195h.24v1h-.24zM449,195h3v1h-3zM443.76,196h1.24v1h-1.24zM450,196h3v1h-3zM443.76,197h2.24v1h-2.24zM451,197h3v1h-3zM444,198h3v1h-3zM452,198h3v1h-3zM445,199h3v1h-3zM453,199h3v1h-3zM446,200h3v1h-3zM454,200h2.99v1h-2.99zM447,201h3v1h-3zM455,201h1.99v1h-1.99zM448,202h3v1h-3zM456,202h.99v1h-.99zM443.76,203h.24v1h-.24zM449,203h3v1h-3zM443.76,204h1.24v1h-1.24zM450,204h3v1h-3zM443.76,205h2.24v1h-2.24zM451,205h3v1h-3zM444,206h3v1h-3zM452,206h3v1h-3zM445,207h3v1h-3zM453,207h3v1h-3zM446,208h3v1h-3zM454,208h2.99v1h-2.99zM447,209h3v1h-3zM455,209h1.99v1h-1.99zM448,210h3v1h-3zM456,210h.99v1h-.99zM443.76,211h.24v1h-.24zM449,211h3v1h-3zM443.76,212h1.24v1h-1.24zM450,212h3v1h-3zM443.76,213h2.24v1h-2.24zM451,213h3v1h-3zM444,214h3v1h-3zM452,214h3v1h-3zM445,215h3v1h-3zM453,215h3v1h-3zM446,216h3v1h-3zM454,216h2.99v1h-2.99zM447,217h3v1h-3zM455,217h1.99v1h-1.99zM448,218h3v1h-3zM456,218h.99v1h-.99zM443.76,219h.24v1h-.24zM449,219h3v1h-3zM443.76,220h1.24v1h-1.24zM450,220h3v1h-3zM443.76,221h2.24v1h-2.24zM451,221h3v1h-3zM444,222h3v1h-3zM452,222h3v1h-3zM445,223h3v1h-3zM453,223h3v1h-3zM446,224h3v1h-3zM454,224h2.99v1h-2.99zM447,225h3v1h-3zM455,225h1.99v1h-1.99zM448,226h3v.5h-3zM456,226h.99v.5h-.99z" fill="#000"/>
<rect x="750.09" y="295.90" width="24.83" height="88.35" fill="none" stroke="#000" stroke-width="3.5" stroke-linejoin="round"/>
<path d="M103.4,20.95 H110.50 V392.7 M103.4,384.25 H793.60 V392.7" stroke="#000" stroke-width="3.5" stroke-linejoin="round" fill="none"/>
<path d="M103.4,332.35 H110.50" stroke="#000" stroke-width="3.4" fill="none"/>
<path d="M103.4,280.45 H110.50" stroke="#000" stroke-width="3.4" fill="none"/>
<path d="M103.4,228.55 H110.50" stroke="#000" stroke-width="3.4" fill="none"/>
<path d="M103.4,176.65 H110.50" stroke="#000" stroke-width="3.4" fill="none"/>
<path d="M103.4,124.75 H110.50" stroke="#000" stroke-width="3.4" fill="none"/>
<path d="M103.4,72.85 H110.50" stroke="#000" stroke-width="3.4" fill="none"/>
<path d="M247.09,384.25 V392.7" stroke="#000" stroke-width="3.3" fill="none"/>
<path d="M383.68,384.25 V392.7" stroke="#000" stroke-width="3.3" fill="none"/>
<path d="M520.27,384.25 V392.7" stroke="#000" stroke-width="3.3" fill="none"/>
<path d="M656.86,384.25 V392.7" stroke="#000" stroke-width="3.3" fill="none"/>
<text transform="translate(78.02,390.75) scale(1.0341,1.0000)" font-size="21.2">0</text>
<text transform="translate(60.35,338.85) scale(0.9474,1.0000)" font-size="21.2">0.5</text>
<text transform="translate(79.29,286.95) scale(0.6519,1.0000)" font-size="21.2">1</text>
<text transform="translate(61.75,235.05) scale(0.8981,1.0000)" font-size="21.2">1.5</text>
<text transform="translate(78.00,183.15) scale(1.0010,1.0000)" font-size="21.2">2</text>
<text transform="translate(60.97,131.25) scale(0.9255,1.0000)" font-size="21.2">2.5</text>
<text transform="translate(78.27,79.35) scale(0.9760,1.0000)" font-size="21.2">3</text>
<text transform="translate(61.21,27.45) scale(0.9261,1.0000)" font-size="21.2">3.5</text>
<text transform="translate(148.41,426.90) scale(0.9192,1.0000)" font-size="25.9">TNFα</text>
<text transform="translate(286.58,426.90) scale(0.9696,1.0000)" font-size="25.9">IL-1β</text>
<text transform="translate(431.60,426.90) scale(0.9585,1.0000)" font-size="25.9">IL-6</text>
<text transform="translate(562.72,426.90) scale(0.9532,1.0000)" font-size="25.9">IL-10</text>
<text transform="translate(694.86,426.90) scale(0.9349,1.0000)" font-size="25.9">IL-1ra</text>
<text transform="translate(589.44,68.45) scale(1.0625,1.0000)" font-size="20.2">Rituximab</text>
<text transform="translate(614.22,96.60) scale(1.0400,1.0000)" font-size="18.5">0</text>
<text transform="translate(619.33,133.00) scale(0.9466,1.0000)" font-size="18.8">125</text>
<text transform="translate(653.39,133.00) scale(1.1314,1.0000)" font-size="18.8">µg/ml</text>
<text transform="translate(617.82,169.70) scale(0.9814,1.0000)" font-size="18.8">250</text>
<text transform="translate(653.39,169.70) scale(1.1314,1.0000)" font-size="18.8">µg/ml</text>
<text transform="translate(614.47,207.20) scale(0.9681,1.0000)" font-size="18.8">500</text>
<text transform="translate(649.34,207.20) scale(1.1314,1.0000)" font-size="18.8">µg/ml</text>
<text transform="translate(465.0,118.0) rotate(90) scale(0.9,0.97) translate(-5.08,10.47)" font-size="20.3" stroke="#000" stroke-width="0.15" style="font-family:'DejaVu Sans','Liberation Sans',sans-serif">*</text>
<text transform="translate(625.55,334.65) rotate(90) scale(0.9,0.97) translate(-5.08,10.47)" font-size="20.3" stroke="#000" stroke-width="0.15" style="font-family:'DejaVu Sans','Liberation Sans',sans-serif">*</text>
<text transform="translate(26.00,310.88) rotate(-90) scale(0.9439,1.0000)" font-size="24.6">Cytokine,</text>
<text transform="translate(26.00,207.43) rotate(-90) scale(1.0467,1.0000)" font-size="24.6">ng/ml</text>
<rect x="596.7" y="83.9" width="14.4" height="14.1" rx="1.6" fill="#000"/>
<rect x="598.35" y="121.70" width="11.25" height="11.5" fill="#fff"/>
<path transform="translate(-0.8475,-0.8475) scale(1.69492)" d="M356,73.01h1v.99h-1zM357,74h1v1h-1zM354.23,75h.77v1h-.77zM358,75h1v1h-1zM355,76h1v1h-1zM359,76h.46v1h-.46zM356,77h1v1h-1zM357,78h1v.38h-1z" fill="#000"/>
<rect x="598.35" y="121.70" width="11.25" height="11.5" fill="none" stroke="#000" stroke-width="3.5" stroke-linejoin="round"/>
<rect x="598.35" y="158.75" width="11.25" height="11.5" fill="#fff"/>
<path transform="translate(-0.8475,-0.8475) scale(1.69492)" d="M356,94.87h1v.13h-1zM355,95h1v1h-1zM359,95h.46v1h-.46zM354.23,96h.77v1h-.77zM358,96h1v1h-1zM357,97h1v1h-1zM356,98h1v1h-1zM355,99h1v1h-1zM359,99h.46v1h-.46zM354.23,100h.77v.24h-.77zM358,100h1v.24h-1z" fill="#000"/>
<rect x="598.35" y="158.75" width="11.25" height="11.5" fill="none" stroke="#000" stroke-width="3.5" stroke-linejoin="round"/>
<rect x="598.35" y="195.50" width="11.25" height="11.5" fill="#fff"/>
<path transform="translate(-0.8475,-0.8475) scale(1.69492)" d="M354.23,116.55h2.77v.45h-2.77zM355,117h3v1h-3zM356,118h3v1h-3zM357,119h2.46v1h-2.46zM358,120h1.46v1h-1.46zM359,121h.46v.92h-.46z" fill="#000"/>
<rect x="598.35" y="195.50" width="11.25" height="11.5" fill="none" stroke="#000" stroke-width="3.5" stroke-linejoin="round"/>
</svg>
</body></html>
